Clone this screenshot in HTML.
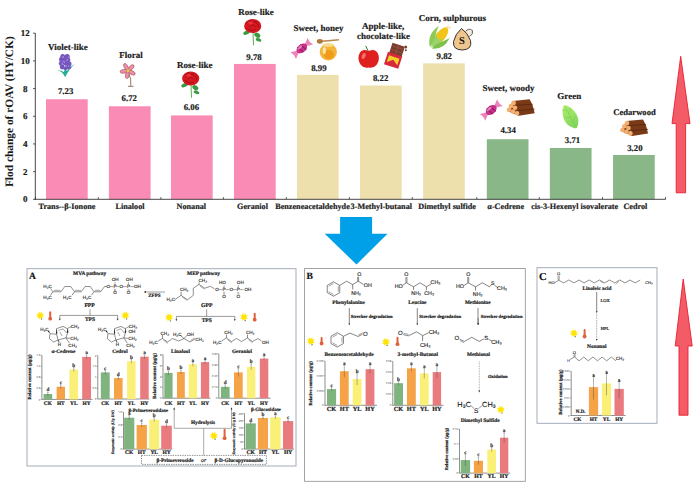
<!DOCTYPE html>
<html><head><meta charset="utf-8"><style>
html,body{margin:0;padding:0;background:#fff;}
svg{display:block;}
text{text-rendering:geometricPrecision;}
</style></head><body>
<svg width="700" height="488" viewBox="0 0 700 488">
<rect width="700" height="488" fill="#fff"/>
<rect x="46.00" y="99.22" width="41.70" height="100.08" fill="#FA8BB4" />
<text x="65.65" y="93.90" font-size="8.8" text-anchor="middle" font-weight="bold" font-family="'Liberation Serif', serif" fill="#1a1a1a" stroke="#1a1a1a" stroke-width="0.18" >7.23</text>
<text x="67.00" y="209.00" font-size="8.2" text-anchor="middle" font-weight="bold" font-family="'Liberation Serif', serif" fill="#1a1a1a" stroke="#1a1a1a" stroke-width="0.18" >Trans--β-Ionone</text>
<rect x="108.90" y="106.28" width="41.70" height="93.02" fill="#FA8BB4" />
<text x="129.25" y="100.70" font-size="8.8" text-anchor="middle" font-weight="bold" font-family="'Liberation Serif', serif" fill="#1a1a1a" stroke="#1a1a1a" stroke-width="0.18" >6.72</text>
<text x="130.00" y="209.00" font-size="8.2" text-anchor="middle" font-weight="bold" font-family="'Liberation Serif', serif" fill="#1a1a1a" stroke="#1a1a1a" stroke-width="0.18" >Linalool</text>
<rect x="171.00" y="115.42" width="41.70" height="83.88" fill="#FA8BB4" />
<text x="191.40" y="110.20" font-size="8.8" text-anchor="middle" font-weight="bold" font-family="'Liberation Serif', serif" fill="#1a1a1a" stroke="#1a1a1a" stroke-width="0.18" >6.06</text>
<text x="191.30" y="209.00" font-size="8.2" text-anchor="middle" font-weight="bold" font-family="'Liberation Serif', serif" fill="#1a1a1a" stroke="#1a1a1a" stroke-width="0.18" >Nonanal</text>
<rect x="234.00" y="63.93" width="41.70" height="135.37" fill="#FA8BB4" />
<text x="254.00" y="60.00" font-size="8.8" text-anchor="middle" font-weight="bold" font-family="'Liberation Serif', serif" fill="#1a1a1a" stroke="#1a1a1a" stroke-width="0.18" >9.78</text>
<text x="252.50" y="209.00" font-size="8.2" text-anchor="middle" font-weight="bold" font-family="'Liberation Serif', serif" fill="#1a1a1a" stroke="#1a1a1a" stroke-width="0.18" >Geraniol</text>
<rect x="296.95" y="74.86" width="41.70" height="124.44" fill="#EDE0AD" />
<text x="318.90" y="71.00" font-size="8.8" text-anchor="middle" font-weight="bold" font-family="'Liberation Serif', serif" fill="#1a1a1a" stroke="#1a1a1a" stroke-width="0.18" >8.99</text>
<text x="312.50" y="209.00" font-size="8.2" text-anchor="middle" font-weight="bold" font-family="'Liberation Serif', serif" fill="#1a1a1a" stroke="#1a1a1a" stroke-width="0.18" >Benzeneacetaldehyde</text>
<rect x="360.00" y="85.52" width="41.70" height="113.78" fill="#EDE0AD" />
<text x="380.60" y="80.80" font-size="8.8" text-anchor="middle" font-weight="bold" font-family="'Liberation Serif', serif" fill="#1a1a1a" stroke="#1a1a1a" stroke-width="0.18" >8.22</text>
<text x="381.30" y="209.00" font-size="8.2" text-anchor="middle" font-weight="bold" font-family="'Liberation Serif', serif" fill="#1a1a1a" stroke="#1a1a1a" stroke-width="0.18" >3-Methyl-butanal</text>
<rect x="423.10" y="63.37" width="41.70" height="135.93" fill="#EDE0AD" />
<text x="444.25" y="59.10" font-size="8.8" text-anchor="middle" font-weight="bold" font-family="'Liberation Serif', serif" fill="#1a1a1a" stroke="#1a1a1a" stroke-width="0.18" >9.82</text>
<text x="447.10" y="209.00" font-size="8.2" text-anchor="middle" font-weight="bold" font-family="'Liberation Serif', serif" fill="#1a1a1a" stroke="#1a1a1a" stroke-width="0.18" >Dimethyl sulfide</text>
<rect x="486.80" y="139.23" width="41.70" height="60.07" fill="#89B787" />
<text x="508.15" y="133.40" font-size="8.8" text-anchor="middle" font-weight="bold" font-family="'Liberation Serif', serif" fill="#1a1a1a" stroke="#1a1a1a" stroke-width="0.18" >4.34</text>
<text x="505.70" y="209.00" font-size="8.2" text-anchor="middle" font-weight="bold" font-family="'Liberation Serif', serif" fill="#1a1a1a" stroke="#1a1a1a" stroke-width="0.18" >α-Cedrene</text>
<rect x="549.85" y="147.95" width="41.70" height="51.35" fill="#89B787" />
<text x="572.50" y="142.90" font-size="8.8" text-anchor="middle" font-weight="bold" font-family="'Liberation Serif', serif" fill="#1a1a1a" stroke="#1a1a1a" stroke-width="0.18" >3.71</text>
<text x="574.70" y="209.00" font-size="8.2" text-anchor="middle" font-weight="bold" font-family="'Liberation Serif', serif" fill="#1a1a1a" stroke="#1a1a1a" stroke-width="0.18" >cis-3-Hexenyl isovalerate</text>
<rect x="613.05" y="155.01" width="41.70" height="44.29" fill="#89B787" />
<text x="634.85" y="150.60" font-size="8.8" text-anchor="middle" font-weight="bold" font-family="'Liberation Serif', serif" fill="#1a1a1a" stroke="#1a1a1a" stroke-width="0.18" >3.20</text>
<text x="635.40" y="209.00" font-size="8.2" text-anchor="middle" font-weight="bold" font-family="'Liberation Serif', serif" fill="#1a1a1a" stroke="#1a1a1a" stroke-width="0.18" >Cedrol</text>
<line x1="35.30" y1="33.20" x2="35.30" y2="199.70" stroke="#333" stroke-width="0.9" />
<line x1="34.90" y1="199.30" x2="665.70" y2="199.30" stroke="#333" stroke-width="0.9" />
<line x1="33.00" y1="199.30" x2="35.30" y2="199.30" stroke="#333" stroke-width="0.8" />
<text x="25.20" y="202.30" font-size="9.0" text-anchor="middle" font-weight="bold" font-family="'Liberation Serif', serif" fill="#1a1a1a" stroke="#1a1a1a" stroke-width="0.18" >0</text>
<line x1="33.00" y1="171.62" x2="35.30" y2="171.62" stroke="#333" stroke-width="0.8" />
<text x="25.20" y="174.62" font-size="9.0" text-anchor="middle" font-weight="bold" font-family="'Liberation Serif', serif" fill="#1a1a1a" stroke="#1a1a1a" stroke-width="0.18" >2</text>
<line x1="33.00" y1="143.93" x2="35.30" y2="143.93" stroke="#333" stroke-width="0.8" />
<text x="25.20" y="146.93" font-size="9.0" text-anchor="middle" font-weight="bold" font-family="'Liberation Serif', serif" fill="#1a1a1a" stroke="#1a1a1a" stroke-width="0.18" >4</text>
<line x1="33.00" y1="116.25" x2="35.30" y2="116.25" stroke="#333" stroke-width="0.8" />
<text x="25.20" y="119.25" font-size="9.0" text-anchor="middle" font-weight="bold" font-family="'Liberation Serif', serif" fill="#1a1a1a" stroke="#1a1a1a" stroke-width="0.18" >6</text>
<line x1="33.00" y1="88.57" x2="35.30" y2="88.57" stroke="#333" stroke-width="0.8" />
<text x="25.20" y="91.57" font-size="9.0" text-anchor="middle" font-weight="bold" font-family="'Liberation Serif', serif" fill="#1a1a1a" stroke="#1a1a1a" stroke-width="0.18" >8</text>
<line x1="33.00" y1="60.88" x2="35.30" y2="60.88" stroke="#333" stroke-width="0.8" />
<text x="25.20" y="63.88" font-size="9.0" text-anchor="middle" font-weight="bold" font-family="'Liberation Serif', serif" fill="#1a1a1a" stroke="#1a1a1a" stroke-width="0.18" >10</text>
<line x1="33.00" y1="33.20" x2="35.30" y2="33.20" stroke="#333" stroke-width="0.8" />
<text x="25.20" y="36.20" font-size="9.0" text-anchor="middle" font-weight="bold" font-family="'Liberation Serif', serif" fill="#1a1a1a" stroke="#1a1a1a" stroke-width="0.18" >12</text>
<line x1="35.40" y1="199.30" x2="35.40" y2="197.10" stroke="#333" stroke-width="0.8" />
<line x1="98.30" y1="199.30" x2="98.30" y2="197.10" stroke="#333" stroke-width="0.8" />
<line x1="160.90" y1="199.30" x2="160.90" y2="197.10" stroke="#333" stroke-width="0.8" />
<line x1="223.40" y1="199.30" x2="223.40" y2="197.10" stroke="#333" stroke-width="0.8" />
<line x1="286.30" y1="199.30" x2="286.30" y2="197.10" stroke="#333" stroke-width="0.8" />
<line x1="349.40" y1="199.30" x2="349.40" y2="197.10" stroke="#333" stroke-width="0.8" />
<line x1="412.30" y1="199.30" x2="412.30" y2="197.10" stroke="#333" stroke-width="0.8" />
<line x1="476.80" y1="199.30" x2="476.80" y2="197.10" stroke="#333" stroke-width="0.8" />
<line x1="539.30" y1="199.30" x2="539.30" y2="197.10" stroke="#333" stroke-width="0.8" />
<line x1="602.50" y1="199.30" x2="602.50" y2="197.10" stroke="#333" stroke-width="0.8" />
<line x1="665.50" y1="199.30" x2="665.50" y2="197.10" stroke="#333" stroke-width="0.8" />
<text transform="translate(12.8,111.7) rotate(-90)" font-size="11.4" text-anchor="middle" font-weight="bold" font-family="'Liberation Serif', serif" fill="#1a1a1a">Flod change of rOAV (HY/CK)</text>
<text x="67.85" y="49.80" font-size="9.0" text-anchor="middle" font-weight="bold" font-family="'Liberation Serif', serif" fill="#1a1a1a" stroke="#1a1a1a" stroke-width="0.18" >Violet-like</text>
<text x="130.90" y="58.10" font-size="9.0" text-anchor="middle" font-weight="bold" font-family="'Liberation Serif', serif" fill="#1a1a1a" stroke="#1a1a1a" stroke-width="0.18" >Floral</text>
<text x="194.75" y="68.10" font-size="9.0" text-anchor="middle" font-weight="bold" font-family="'Liberation Serif', serif" fill="#1a1a1a" stroke="#1a1a1a" stroke-width="0.18" >Rose-like</text>
<text x="256.00" y="14.80" font-size="9.0" text-anchor="middle" font-weight="bold" font-family="'Liberation Serif', serif" fill="#1a1a1a" stroke="#1a1a1a" stroke-width="0.18" >Rose-like</text>
<text x="318.40" y="31.00" font-size="9.0" text-anchor="middle" font-weight="bold" font-family="'Liberation Serif', serif" fill="#1a1a1a" stroke="#1a1a1a" stroke-width="0.18" >Sweet, honey</text>
<text x="383.25" y="28.60" font-size="9.0" text-anchor="middle" font-weight="bold" font-family="'Liberation Serif', serif" fill="#1a1a1a" stroke="#1a1a1a" stroke-width="0.18" >Apple-like,</text>
<text x="383.50" y="39.40" font-size="9.0" text-anchor="middle" font-weight="bold" font-family="'Liberation Serif', serif" fill="#1a1a1a" stroke="#1a1a1a" stroke-width="0.18" >chocolate-like</text>
<text x="452.40" y="20.60" font-size="9.0" text-anchor="middle" font-weight="bold" font-family="'Liberation Serif', serif" fill="#1a1a1a" stroke="#1a1a1a" stroke-width="0.18" >Corn, sulphurous</text>
<text x="508.50" y="91.00" font-size="9.0" text-anchor="middle" font-weight="bold" font-family="'Liberation Serif', serif" fill="#1a1a1a" stroke="#1a1a1a" stroke-width="0.18" >Sweet, woody</text>
<text x="569.25" y="99.10" font-size="9.0" text-anchor="middle" font-weight="bold" font-family="'Liberation Serif', serif" fill="#1a1a1a" stroke="#1a1a1a" stroke-width="0.18" >Green</text>
<text x="634.50" y="114.60" font-size="8.6" text-anchor="middle" font-weight="bold" font-family="'Liberation Serif', serif" fill="#1a1a1a" stroke="#1a1a1a" stroke-width="0.18" >Cedarwood</text>
<g transform="translate(65.2,62)">
<path d="M-8,8.3 Q-3,9 0,15.2 Q4,7 9.6,2.1 Q4,5 1.5,9 L0.5,6 L-1.5,10 Q-4,8 -8,8.3 Z" fill="#28AC96"/>
<circle cx="-2.5" cy="-5.5" r="2.4" fill="#7656BE"/>
<circle cx="2" cy="-5.5" r="2.6" fill="#7656BE"/>
<circle cx="-3.8" cy="-2.5" r="2.4" fill="#7656BE"/>
<circle cx="2.5" cy="-2" r="2.6" fill="#7656BE"/>
<circle cx="-0.5" cy="-3" r="2.4" fill="#7656BE"/>
<circle cx="-4" cy="1.5" r="2.4" fill="#7656BE"/>
<circle cx="4" cy="2" r="2.4" fill="#7656BE"/>
<circle cx="0" cy="1" r="2.4" fill="#7656BE"/>
<circle cx="-3" cy="5" r="2.4" fill="#7656BE"/>
<circle cx="2" cy="5" r="2.4" fill="#7656BE"/>
<circle cx="0" cy="6.5" r="1.8" fill="#7656BE"/>
<circle cx="4.5" cy="5.5" r="1.5" fill="#7656BE"/>
<circle cx="-2" cy="-5" r="0.8" fill="#B8A8E8"/>
<circle cx="2" cy="-2" r="0.8" fill="#B8A8E8"/>
<circle cx="-3" cy="2" r="0.8" fill="#B8A8E8"/>
<circle cx="1" cy="4" r="0.7" fill="#B8A8E8"/>
<circle cx="3" cy="-5" r="0.6" fill="#B8A8E8"/>
<circle cx="-1" cy="0" r="0.7" fill="#B8A8E8"/>
<circle cx="3.5" cy="4" r="0.6" fill="#B8A8E8"/>
</g>
<g transform="translate(128,70.7)">
<path d="M0.5,2 Q3.5,7 2.8,15.3 M0,15.6 L5.5,15.6" stroke="#8A6A50" stroke-width="0.9" fill="none"/>
<ellipse cx="0" cy="-4.4" rx="1.9" ry="3.6" fill="#F28BB0" stroke="#8E5A48" stroke-width="0.55" transform="rotate(45)"/>
<ellipse cx="0" cy="-4.4" rx="1.9" ry="3.6" fill="#F28BB0" stroke="#8E5A48" stroke-width="0.55" transform="rotate(117)"/>
<ellipse cx="0" cy="-4.4" rx="1.9" ry="3.6" fill="#F28BB0" stroke="#8E5A48" stroke-width="0.55" transform="rotate(189)"/>
<ellipse cx="0" cy="-4.4" rx="1.9" ry="3.6" fill="#F28BB0" stroke="#8E5A48" stroke-width="0.55" transform="rotate(261)"/>
<ellipse cx="0" cy="-4.4" rx="1.9" ry="3.6" fill="#F28BB0" stroke="#8E5A48" stroke-width="0.55" transform="rotate(333)"/>
<circle cx="0" cy="0" r="1.4" fill="#F0DA20"/>
</g>
<g transform="translate(190.7,78.5) scale(1.0)">
<path d="M0.3,5 L0.8,19.2" stroke="#5CB04C" stroke-width="1.0"/>
<ellipse cx="-6.2" cy="6.6" rx="3.4" ry="1.9" fill="#3A9A42" transform="rotate(-25 -6.2 6.6)"/>
<ellipse cx="4.6" cy="9.2" rx="3.2" ry="2.3" fill="#3A9A42" transform="rotate(35 4.6 9.2)"/>
<ellipse cx="5.8" cy="13.8" rx="3.0" ry="1.6" fill="#3A9A42" transform="rotate(20 5.8 13.8)"/>
<ellipse cx="0" cy="0" rx="8.6" ry="7.0" fill="#D41820"/>
<path d="M-5,-2 Q0,-7 5,-2 M-3,1 Q0,-3 3,1 M-6,2 Q-2,6 3,4 M2,-5 Q6,-3 6,2 M-6,-3 Q-4,-6 -1,-6" stroke="#9A0C14" stroke-width="0.7" fill="none"/>
<ellipse cx="-2" cy="-3" rx="2.5" ry="1.4" fill="#EC3038"/>
</g>
<g transform="translate(252.7,26.0) scale(1.0)">
<path d="M0.3,5 L0.8,19.2" stroke="#5CB04C" stroke-width="1.0"/>
<ellipse cx="-6.2" cy="6.6" rx="3.4" ry="1.9" fill="#3A9A42" transform="rotate(-25 -6.2 6.6)"/>
<ellipse cx="4.6" cy="9.2" rx="3.2" ry="2.3" fill="#3A9A42" transform="rotate(35 4.6 9.2)"/>
<ellipse cx="5.8" cy="13.8" rx="3.0" ry="1.6" fill="#3A9A42" transform="rotate(20 5.8 13.8)"/>
<ellipse cx="0" cy="0" rx="8.6" ry="7.0" fill="#D41820"/>
<path d="M-5,-2 Q0,-7 5,-2 M-3,1 Q0,-3 3,1 M-6,2 Q-2,6 3,4 M2,-5 Q6,-3 6,2 M-6,-3 Q-4,-6 -1,-6" stroke="#9A0C14" stroke-width="0.7" fill="none"/>
<ellipse cx="-2" cy="-3" rx="2.5" ry="1.4" fill="#EC3038"/>
</g>
<g transform="translate(301.8,48.4) rotate(-40) scale(0.86)">
<path d="M-13,-5 Q-11,0 -13,5 L-6,1.5 L-6,-1.5 Z" fill="#EC84BC"/>
<path d="M13,-5 Q11,0 13,5 L6,1.5 L6,-1.5 Z" fill="#EC84BC"/>
<ellipse cx="0" cy="0" rx="7" ry="4.8" fill="#C8308A"/>
<path d="M-3,-4.5 L-1.5,4.5 M1.5,-4.5 L3,4.5" stroke="#8E1A5E" stroke-width="1.2"/>
<ellipse cx="-1" cy="-2.3" rx="3.5" ry="1.2" fill="#F0A0D0" opacity="0.8"/>
</g>
<g transform="translate(328.3,51.5)">
<ellipse cx="0" cy="0.5" rx="8.6" ry="8.5" fill="#F3B43A"/>
<ellipse cx="0" cy="-6.5" rx="6" ry="1.8" fill="#F6DC90"/>
<ellipse cx="0.5" cy="3" rx="5" ry="4.5" fill="#F09A18"/>
<ellipse cx="-4" cy="-1" rx="1.6" ry="3.5" fill="#FBE7A8"/>
<path d="M-10,-10 Q0,-10.5 10.5,-11.8" stroke="#B8864A" stroke-width="1.6" fill="none"/>
<ellipse cx="-8.5" cy="-10.2" rx="3" ry="2.4" fill="#B07838"/>
</g>
<g transform="translate(368.7,58)">
<path d="M-0.5,-7 L-3,-12" stroke="#3A7A2A" stroke-width="1"/>
<path d="M0,-7 C-8,-11 -11,-3 -10,2 C-9,8 -4,10.5 0,9.5 C4,10.5 9,8 10,2 C11,-3 8,-11 0,-7 Z" fill="#E0201E"/>
<ellipse cx="-5" cy="-2" rx="1.8" ry="3.2" fill="#F57070" transform="rotate(20 -5 -2)"/>
</g>
<g transform="translate(394.5,56) rotate(18)">
<rect x="-6" y="-12" width="13" height="11" fill="#7A3E2E"/>
<path d="M-5,-9 L6,-9 M-5,-5 L6,-5 M0.5,-12 L0.5,-1" stroke="#A06050" stroke-width="0.5"/>
<rect x="-7.5" y="-2" width="15" height="13" fill="#D8283C"/>
<polygon points="-5.5,1 5.5,1 5.5,8 0,4 -5.5,8" fill="#F2D02A"/>
<circle cx="8" cy="-12" r="1.4" fill="#7A3E2E"/><circle cx="9" cy="-9" r="1" fill="#7A3E2E"/>
</g>
<g transform="translate(439.7,37.2) rotate(40) scale(1.15)">
<ellipse cx="0" cy="-1" rx="4.2" ry="9.5" fill="#F2C418"/>
<path d="M-1,12 Q-10,6 -7,-7 Q-4,2 -1,6 Z" fill="#8CCB58"/>
<path d="M1,12 Q10,6 7,-5 Q4,3 1,6 Z" fill="#7EC04A"/>
<path d="M0,12 Q-3,4 -4,-2 Q0,6 4,-2 Q3,4 0,12 Z" fill="#9AD468"/>
<path d="M0,-10 L-1,-13 M0,-10 L2,-13" stroke="#F0D890" stroke-width="0.8"/>
</g>
<g transform="translate(462.5,39.5)">
<path d="M3,-8 Q6,-12 10,-9 Q11,-5 7,-3" stroke="#444" stroke-width="0.8" fill="#F4EAD8"/>
<path d="M-1,-11 Q5,-7 8,1 Q10,10 0,10.5 Q-10,10.5 -9,2 Q-7,-6 -1,-11 Z" fill="#EEC58C" stroke="#333" stroke-width="1"/>
<text x="-0.5" y="4.5" font-size="10.5" text-anchor="middle" font-weight="bold" font-family="'Liberation Serif', serif" fill="#111">S</text>
</g>
<g transform="translate(491.2,110) rotate(-40) scale(0.88)">
<path d="M-13,-5 Q-11,0 -13,5 L-6,1.5 L-6,-1.5 Z" fill="#EC84BC"/>
<path d="M13,-5 Q11,0 13,5 L6,1.5 L6,-1.5 Z" fill="#EC84BC"/>
<ellipse cx="0" cy="0" rx="7" ry="4.8" fill="#C8308A"/>
<path d="M-3,-4.5 L-1.5,4.5 M1.5,-4.5 L3,4.5" stroke="#8E1A5E" stroke-width="1.2"/>
<ellipse cx="-1" cy="-2.3" rx="3.5" ry="1.2" fill="#F0A0D0" opacity="0.8"/>
</g>
<g transform="translate(521,107.5) scale(1.0)">
<polygon points="-13.7,3.4 -8,-6.6 8.6,-8.3 11.5,-2.8 13.7,5.7 -2.3,8.3" fill="#7A3A18"/>
<path d="M-5.5,-2.2 L11.5,-3.2 M-3,3 L13.7,1.6" stroke="#50220A" stroke-width="0.7"/>
<circle cx="-12" cy="2.3" r="2.3" fill="#F4B070"/>
<circle cx="-8" cy="4" r="2.3" fill="#F4B070"/>
<circle cx="-4" cy="5.7" r="2.3" fill="#F4B070"/>
<circle cx="-10" cy="-1.4" r="2.3" fill="#F4B070"/>
<circle cx="-6" cy="0.3" r="2.3" fill="#F4B070"/>
<circle cx="-7.4" cy="-4.6" r="2.3" fill="#F4B070"/>
</g>
<g transform="translate(570.2,116.6) rotate(-28)">
<defs><linearGradient id="lg" x1="0" y1="0" x2="0" y2="1"><stop offset="0" stop-color="#ACEE6C"/><stop offset="1" stop-color="#7ED45C"/></linearGradient></defs>
<path d="M0,-13.2 C7,-8 8.2,3 5,8 C3,11.5 1,13 0,13.2 C-1,13 -3,11.5 -5,8 C-8.2,3 -7,-8 0,-13.2 Z" fill="url(#lg)"/>
<path d="M0,-11 L0,11 M0,-4 L4.5,-7 M0,1 L-5,-2 M0,5 L5,2 M0,-7 L-4,-9.5" stroke="#6CC24A" stroke-width="0.5" fill="none" opacity="0.7"/>
</g>
<g transform="translate(634.4,127.7) scale(1.0)">
<polygon points="-13.7,3.4 -8,-6.6 8.6,-8.3 11.5,-2.8 13.7,5.7 -2.3,8.3" fill="#7A3A18"/>
<path d="M-5.5,-2.2 L11.5,-3.2 M-3,3 L13.7,1.6" stroke="#50220A" stroke-width="0.7"/>
<circle cx="-12" cy="2.3" r="2.3" fill="#F4B070"/>
<circle cx="-8" cy="4" r="2.3" fill="#F4B070"/>
<circle cx="-4" cy="5.7" r="2.3" fill="#F4B070"/>
<circle cx="-10" cy="-1.4" r="2.3" fill="#F4B070"/>
<circle cx="-6" cy="0.3" r="2.3" fill="#F4B070"/>
<circle cx="-7.4" cy="-4.6" r="2.3" fill="#F4B070"/>
</g>
<polygon points="340.10,216.90 372.10,216.90 372.10,233.70 387.50,233.70 356.50,264.50 324.70,233.70 340.10,233.70" fill="#00A0E9" stroke="none" stroke-width="0" />
<polygon points="680.70,56.30 690.00,123.60 685.60,123.60 685.60,192.80 676.20,192.80 676.20,123.60 672.00,123.60" fill="#F35C66" stroke="#E81E34" stroke-width="0.9" />
<polygon points="683.20,279.00 692.20,346.00 688.00,346.00 688.00,415.20 679.00,415.20 679.00,346.00 675.20,346.00" fill="#F35C66" stroke="#E81E34" stroke-width="0.9" />
<!--PANELS-->
<rect x="27" y="268.7" width="269" height="297" fill="none"/>
<rect x="27.00" y="268.70" width="269.00" height="197.30" fill="none" stroke="#9AA3B2" stroke-width="0.9"/>
<text x="32.40" y="278.80" font-size="9.6" text-anchor="middle" font-weight="bold" font-family="'Liberation Serif', serif" fill="#111" stroke="#111" stroke-width="0.18" >A</text>
<text x="89.60" y="275.40" font-size="5.4" text-anchor="middle" font-weight="bold" font-family="'Liberation Serif', serif" fill="#1a1a1a" stroke="#1a1a1a" stroke-width="0.2" >MVA pathway</text>
<text x="203.50" y="275.00" font-size="5.4" text-anchor="middle" font-weight="bold" font-family="'Liberation Serif', serif" fill="#1a1a1a" stroke="#1a1a1a" stroke-width="0.2" >MEP pathway</text>
<polyline points="52.75,291.75 61.00,291.75 64.75,286.50 70.75,286.50 74.50,291.75 81.25,291.75 85.00,286.50 90.25,286.50 94.00,291.75 100.75,291.75 104.50,286.50 106.80,286.50" stroke="#333" stroke-width="0.55" fill="none" />
<polyline points="50.50,288.30 52.75,291.75 50.50,295.30" stroke="#333" stroke-width="0.55" fill="none" />
<line x1="54.00" y1="290.30" x2="60.50" y2="290.30" stroke="#333" stroke-width="0.45" />
<line x1="75.00" y1="290.30" x2="81.00" y2="290.30" stroke="#333" stroke-width="0.45" />
<line x1="95.00" y1="290.30" x2="100.50" y2="290.30" stroke="#333" stroke-width="0.45" />
<line x1="74.50" y1="291.75" x2="72.00" y2="295.20" stroke="#333" stroke-width="0.55" />
<line x1="94.00" y1="291.75" x2="91.50" y2="295.20" stroke="#333" stroke-width="0.55" />
<text x="47.60" y="287.90" font-size="4.6" text-anchor="middle" font-weight="normal" font-family="'Liberation Sans', sans-serif" fill="#111" stroke="#111" stroke-width="0.1" >H₃C</text>
<text x="47.60" y="299.20" font-size="4.6" text-anchor="middle" font-weight="normal" font-family="'Liberation Sans', sans-serif" fill="#111" stroke="#111" stroke-width="0.1" >H₃C</text>
<text x="67.20" y="299.20" font-size="4.6" text-anchor="middle" font-weight="normal" font-family="'Liberation Sans', sans-serif" fill="#111" stroke="#111" stroke-width="0.1" >H₃C</text>
<text x="87.00" y="299.20" font-size="4.6" text-anchor="middle" font-weight="normal" font-family="'Liberation Sans', sans-serif" fill="#111" stroke="#111" stroke-width="0.1" >H₃C</text>
<text x="108.30" y="288.20" font-size="4.6" text-anchor="middle" font-weight="normal" font-family="'Liberation Sans', sans-serif" fill="#111" stroke="#111" stroke-width="0.1" >O</text>
<text x="115.00" y="288.20" font-size="4.6" text-anchor="middle" font-weight="normal" font-family="'Liberation Sans', sans-serif" fill="#111" stroke="#111" stroke-width="0.1" >P</text>
<text x="121.20" y="288.20" font-size="4.6" text-anchor="middle" font-weight="normal" font-family="'Liberation Sans', sans-serif" fill="#111" stroke="#111" stroke-width="0.1" >O</text>
<text x="128.50" y="288.20" font-size="4.6" text-anchor="middle" font-weight="normal" font-family="'Liberation Sans', sans-serif" fill="#111" stroke="#111" stroke-width="0.1" >P</text>
<text x="137.50" y="288.20" font-size="4.6" text-anchor="middle" font-weight="normal" font-family="'Liberation Sans', sans-serif" fill="#111" stroke="#111" stroke-width="0.1" >OH</text>
<line x1="110.00" y1="286.60" x2="113.30" y2="286.60" stroke="#333" stroke-width="0.45" />
<line x1="116.70" y1="286.60" x2="119.50" y2="286.60" stroke="#333" stroke-width="0.45" />
<line x1="123.00" y1="286.60" x2="126.80" y2="286.60" stroke="#333" stroke-width="0.45" />
<line x1="130.20" y1="286.60" x2="134.30" y2="286.60" stroke="#333" stroke-width="0.45" />
<text x="115.20" y="280.80" font-size="4.6" text-anchor="middle" font-weight="normal" font-family="'Liberation Sans', sans-serif" fill="#111" stroke="#111" stroke-width="0.1" >OH</text>
<text x="129.30" y="280.80" font-size="4.6" text-anchor="middle" font-weight="normal" font-family="'Liberation Sans', sans-serif" fill="#111" stroke="#111" stroke-width="0.1" >OH</text>
<text x="115.00" y="294.40" font-size="4.6" text-anchor="middle" font-weight="normal" font-family="'Liberation Sans', sans-serif" fill="#111" stroke="#111" stroke-width="0.1" >O</text>
<text x="128.50" y="294.40" font-size="4.6" text-anchor="middle" font-weight="normal" font-family="'Liberation Sans', sans-serif" fill="#111" stroke="#111" stroke-width="0.1" >O</text>
<line x1="114.50" y1="288.80" x2="114.50" y2="291.60" stroke="#444" stroke-width="0.35" />
<line x1="115.50" y1="288.80" x2="115.50" y2="291.60" stroke="#444" stroke-width="0.35" />
<line x1="115.00" y1="282.00" x2="115.00" y2="284.60" stroke="#444" stroke-width="0.4" />
<line x1="128.00" y1="288.80" x2="128.00" y2="291.60" stroke="#444" stroke-width="0.35" />
<line x1="129.00" y1="288.80" x2="129.00" y2="291.60" stroke="#444" stroke-width="0.35" />
<line x1="128.50" y1="282.00" x2="128.50" y2="284.60" stroke="#444" stroke-width="0.4" />
<text x="89.60" y="306.90" font-size="5.6" text-anchor="middle" font-weight="bold" font-family="'Liberation Serif', serif" fill="#1a1a1a" stroke="#1a1a1a" stroke-width="0.2" >FPP</text>
<line x1="145.50" y1="292.00" x2="165.00" y2="292.00" stroke="#888" stroke-width="0.8" />
<polygon points="143.60,292.00 146.00,290.90 146.00,293.10" fill="#222" stroke="none" stroke-width="0" />
<text x="154.40" y="296.60" font-size="5.0" text-anchor="middle" font-weight="bold" font-family="'Liberation Serif', serif" fill="#1a1a1a" stroke="#1a1a1a" stroke-width="0.2" >ZFPS</text>
<polyline points="174.60,299.80 181.10,295.30 187.50,299.80 193.30,295.30 193.30,288.20 199.00,284.40 204.80,288.20 210.60,286.30 214.50,288.90" stroke="#333" stroke-width="0.55" fill="none" />
<line x1="182.00" y1="296.80" x2="187.00" y2="300.30" stroke="#333" stroke-width="0.4" />
<line x1="200.00" y1="286.00" x2="204.50" y2="289.30" stroke="#333" stroke-width="0.4" />
<line x1="181.10" y1="295.30" x2="181.10" y2="291.60" stroke="#333" stroke-width="0.55" />
<line x1="199.00" y1="284.40" x2="199.00" y2="282.40" stroke="#333" stroke-width="0.55" />
<text x="170.80" y="301.00" font-size="4.6" text-anchor="middle" font-weight="normal" font-family="'Liberation Sans', sans-serif" fill="#111" stroke="#111" stroke-width="0.1" >H₃C</text>
<text x="184.20" y="291.20" font-size="4.6" text-anchor="middle" font-weight="normal" font-family="'Liberation Sans', sans-serif" fill="#111" stroke="#111" stroke-width="0.1" >CH₃</text>
<text x="202.80" y="282.20" font-size="4.6" text-anchor="middle" font-weight="normal" font-family="'Liberation Sans', sans-serif" fill="#111" stroke="#111" stroke-width="0.1" >CH₃</text>
<text x="217.10" y="291.20" font-size="4.6" text-anchor="middle" font-weight="normal" font-family="'Liberation Sans', sans-serif" fill="#111" stroke="#111" stroke-width="0.1" >O</text>
<text x="224.10" y="291.20" font-size="4.6" text-anchor="middle" font-weight="normal" font-family="'Liberation Sans', sans-serif" fill="#111" stroke="#111" stroke-width="0.1" >P</text>
<text x="231.20" y="291.20" font-size="4.6" text-anchor="middle" font-weight="normal" font-family="'Liberation Sans', sans-serif" fill="#111" stroke="#111" stroke-width="0.1" >O</text>
<text x="238.30" y="291.20" font-size="4.6" text-anchor="middle" font-weight="normal" font-family="'Liberation Sans', sans-serif" fill="#111" stroke="#111" stroke-width="0.1" >P</text>
<text x="248.00" y="291.20" font-size="4.6" text-anchor="middle" font-weight="normal" font-family="'Liberation Sans', sans-serif" fill="#111" stroke="#111" stroke-width="0.1" >OH</text>
<line x1="218.90" y1="289.60" x2="222.30" y2="289.60" stroke="#333" stroke-width="0.45" />
<line x1="225.90" y1="289.60" x2="229.40" y2="289.60" stroke="#333" stroke-width="0.45" />
<line x1="233.00" y1="289.60" x2="236.50" y2="289.60" stroke="#333" stroke-width="0.45" />
<line x1="240.10" y1="289.60" x2="243.50" y2="289.60" stroke="#333" stroke-width="0.45" />
<text x="222.50" y="284.00" font-size="4.6" text-anchor="middle" font-weight="normal" font-family="'Liberation Sans', sans-serif" fill="#111" stroke="#111" stroke-width="0.1" >HO</text>
<text x="240.30" y="284.00" font-size="4.6" text-anchor="middle" font-weight="normal" font-family="'Liberation Sans', sans-serif" fill="#111" stroke="#111" stroke-width="0.1" >OH</text>
<text x="224.10" y="297.60" font-size="4.6" text-anchor="middle" font-weight="normal" font-family="'Liberation Sans', sans-serif" fill="#111" stroke="#111" stroke-width="0.1" >O</text>
<text x="238.30" y="297.60" font-size="4.6" text-anchor="middle" font-weight="normal" font-family="'Liberation Sans', sans-serif" fill="#111" stroke="#111" stroke-width="0.1" >O</text>
<line x1="223.60" y1="291.80" x2="223.60" y2="294.60" stroke="#444" stroke-width="0.35" />
<line x1="224.60" y1="291.80" x2="224.60" y2="294.60" stroke="#444" stroke-width="0.35" />
<line x1="224.10" y1="285.00" x2="224.10" y2="287.60" stroke="#444" stroke-width="0.4" />
<line x1="237.80" y1="291.80" x2="237.80" y2="294.60" stroke="#444" stroke-width="0.35" />
<line x1="238.80" y1="291.80" x2="238.80" y2="294.60" stroke="#444" stroke-width="0.35" />
<line x1="238.30" y1="285.00" x2="238.30" y2="287.60" stroke="#444" stroke-width="0.4" />
<text x="206.70" y="306.90" font-size="5.8" text-anchor="middle" font-weight="bold" font-family="'Liberation Serif', serif" fill="#1a1a1a" stroke="#1a1a1a" stroke-width="0.2" >GPP</text>
<line x1="90.00" y1="309.30" x2="90.00" y2="315.40" stroke="#444" stroke-width="0.55" />
<line x1="59.80" y1="315.40" x2="117.60" y2="315.40" stroke="#444" stroke-width="0.55" />
<line x1="59.80" y1="315.40" x2="59.80" y2="319.00" stroke="#333" stroke-width="0.5" />
<polygon points="58.90,318.70 60.70,318.70 59.80,320.50" fill="#222" stroke="none" stroke-width="0" />
<line x1="117.60" y1="315.40" x2="117.60" y2="319.00" stroke="#333" stroke-width="0.5" />
<polygon points="116.70,318.70 118.50,318.70 117.60,320.50" fill="#222" stroke="none" stroke-width="0" />
<text x="90.00" y="321.40" font-size="5.5" text-anchor="middle" font-weight="bold" font-family="'Liberation Serif', serif" fill="#1a1a1a" stroke="#1a1a1a" stroke-width="0.2" >TPS</text>
<line x1="206.70" y1="309.30" x2="206.70" y2="316.40" stroke="#444" stroke-width="0.55" />
<line x1="176.40" y1="316.40" x2="234.80" y2="316.40" stroke="#444" stroke-width="0.55" />
<line x1="176.40" y1="316.40" x2="176.40" y2="319.50" stroke="#333" stroke-width="0.5" />
<polygon points="175.50,319.20 177.30,319.20 176.40,321.00" fill="#222" stroke="none" stroke-width="0" />
<line x1="234.80" y1="316.40" x2="234.80" y2="319.50" stroke="#333" stroke-width="0.5" />
<polygon points="233.90,319.20 235.70,319.20 234.80,321.00" fill="#222" stroke="none" stroke-width="0" />
<text x="206.70" y="322.10" font-size="5.5" text-anchor="middle" font-weight="bold" font-family="'Liberation Serif', serif" fill="#1a1a1a" stroke="#1a1a1a" stroke-width="0.2" >TPS</text>
<g transform="translate(40.3,315.5)">
<polygon points="-0.8,-2.3000000000000003 0.8,-2.3000000000000003 0,-4.5" fill="#FFE61A" transform="rotate(22)"/>
<polygon points="-0.8,-2.3000000000000003 0.8,-2.3000000000000003 0,-4.5" fill="#FFE61A" transform="rotate(67)"/>
<polygon points="-0.8,-2.3000000000000003 0.8,-2.3000000000000003 0,-4.5" fill="#FFE61A" transform="rotate(112)"/>
<polygon points="-0.8,-2.3000000000000003 0.8,-2.3000000000000003 0,-4.5" fill="#FFE61A" transform="rotate(157)"/>
<polygon points="-0.8,-2.3000000000000003 0.8,-2.3000000000000003 0,-4.5" fill="#FFE61A" transform="rotate(202)"/>
<polygon points="-0.8,-2.3000000000000003 0.8,-2.3000000000000003 0,-4.5" fill="#FFE61A" transform="rotate(247)"/>
<polygon points="-0.8,-2.3000000000000003 0.8,-2.3000000000000003 0,-4.5" fill="#FFE61A" transform="rotate(292)"/>
<polygon points="-0.8,-2.3000000000000003 0.8,-2.3000000000000003 0,-4.5" fill="#FFE61A" transform="rotate(337)"/>
<circle r="2.6" fill="#FFE40A"/>
<circle cx="1.2" cy="3.5" r="0.7" fill="#4A5A6A" opacity="0.8"/>
</g>
<line x1="50.2" y1="312.3" x2="50.2" y2="318.5" stroke="#E0603A" stroke-width="2.0" stroke-linecap="round"/>
<circle cx="50.2" cy="318.7" r="1.9" fill="#E0603A"/>
<text x="53.7" y="314.5" font-size="3.5" font-family="'Liberation Sans', sans-serif" fill="#F2D080">°</text>
<g transform="translate(125.4,315.4)">
<polygon points="-0.8,-2.3000000000000003 0.8,-2.3000000000000003 0,-4.5" fill="#FFE61A" transform="rotate(22)"/>
<polygon points="-0.8,-2.3000000000000003 0.8,-2.3000000000000003 0,-4.5" fill="#FFE61A" transform="rotate(67)"/>
<polygon points="-0.8,-2.3000000000000003 0.8,-2.3000000000000003 0,-4.5" fill="#FFE61A" transform="rotate(112)"/>
<polygon points="-0.8,-2.3000000000000003 0.8,-2.3000000000000003 0,-4.5" fill="#FFE61A" transform="rotate(157)"/>
<polygon points="-0.8,-2.3000000000000003 0.8,-2.3000000000000003 0,-4.5" fill="#FFE61A" transform="rotate(202)"/>
<polygon points="-0.8,-2.3000000000000003 0.8,-2.3000000000000003 0,-4.5" fill="#FFE61A" transform="rotate(247)"/>
<polygon points="-0.8,-2.3000000000000003 0.8,-2.3000000000000003 0,-4.5" fill="#FFE61A" transform="rotate(292)"/>
<polygon points="-0.8,-2.3000000000000003 0.8,-2.3000000000000003 0,-4.5" fill="#FFE61A" transform="rotate(337)"/>
<circle r="2.6" fill="#FFE40A"/>
<circle cx="1.2" cy="3.5" r="0.7" fill="#4A5A6A" opacity="0.8"/>
</g>
<g transform="translate(169.2,317.4)">
<polygon points="-0.8,-2.3000000000000003 0.8,-2.3000000000000003 0,-4.5" fill="#FFE61A" transform="rotate(22)"/>
<polygon points="-0.8,-2.3000000000000003 0.8,-2.3000000000000003 0,-4.5" fill="#FFE61A" transform="rotate(67)"/>
<polygon points="-0.8,-2.3000000000000003 0.8,-2.3000000000000003 0,-4.5" fill="#FFE61A" transform="rotate(112)"/>
<polygon points="-0.8,-2.3000000000000003 0.8,-2.3000000000000003 0,-4.5" fill="#FFE61A" transform="rotate(157)"/>
<polygon points="-0.8,-2.3000000000000003 0.8,-2.3000000000000003 0,-4.5" fill="#FFE61A" transform="rotate(202)"/>
<polygon points="-0.8,-2.3000000000000003 0.8,-2.3000000000000003 0,-4.5" fill="#FFE61A" transform="rotate(247)"/>
<polygon points="-0.8,-2.3000000000000003 0.8,-2.3000000000000003 0,-4.5" fill="#FFE61A" transform="rotate(292)"/>
<polygon points="-0.8,-2.3000000000000003 0.8,-2.3000000000000003 0,-4.5" fill="#FFE61A" transform="rotate(337)"/>
<circle r="2.6" fill="#FFE40A"/>
<circle cx="1.2" cy="3.5" r="0.7" fill="#4A5A6A" opacity="0.8"/>
</g>
<g transform="translate(244,317)">
<polygon points="-0.8,-2.3000000000000003 0.8,-2.3000000000000003 0,-4.5" fill="#FFE61A" transform="rotate(22)"/>
<polygon points="-0.8,-2.3000000000000003 0.8,-2.3000000000000003 0,-4.5" fill="#FFE61A" transform="rotate(67)"/>
<polygon points="-0.8,-2.3000000000000003 0.8,-2.3000000000000003 0,-4.5" fill="#FFE61A" transform="rotate(112)"/>
<polygon points="-0.8,-2.3000000000000003 0.8,-2.3000000000000003 0,-4.5" fill="#FFE61A" transform="rotate(157)"/>
<polygon points="-0.8,-2.3000000000000003 0.8,-2.3000000000000003 0,-4.5" fill="#FFE61A" transform="rotate(202)"/>
<polygon points="-0.8,-2.3000000000000003 0.8,-2.3000000000000003 0,-4.5" fill="#FFE61A" transform="rotate(247)"/>
<polygon points="-0.8,-2.3000000000000003 0.8,-2.3000000000000003 0,-4.5" fill="#FFE61A" transform="rotate(292)"/>
<polygon points="-0.8,-2.3000000000000003 0.8,-2.3000000000000003 0,-4.5" fill="#FFE61A" transform="rotate(337)"/>
<circle r="2.6" fill="#FFE40A"/>
<circle cx="1.2" cy="3.5" r="0.7" fill="#4A5A6A" opacity="0.8"/>
</g>
<line x1="254.7" y1="313.8" x2="254.7" y2="319.5" stroke="#E0603A" stroke-width="2.0" stroke-linecap="round"/>
<circle cx="254.7" cy="319.7" r="1.9" fill="#E0603A"/>
<text x="258.2" y="316" font-size="3.5" font-family="'Liberation Sans', sans-serif" fill="#F2D080">°</text>
<polyline points="50.00,333.60 56.60,334.30 58.00,340.00 53.70,342.10 49.40,338.60 50.00,333.60" stroke="#333" stroke-width="0.55" fill="none" />
<polyline points="56.60,334.30 56.60,328.60 63.00,326.40 67.30,328.60 68.00,331.40 65.90,337.90 58.00,340.00" stroke="#333" stroke-width="0.55" fill="none" />
<polyline points="58.50,330.50 63.00,328.80 66.50,333.00" stroke="#333" stroke-width="0.45" fill="none" />
<polyline points="60.00,332.00 62.00,336.00" stroke="#333" stroke-width="0.45" fill="none" />
<polygon points="50.00,333.60 47.60,331.20 49.00,330.60" fill="#222" stroke="none" stroke-width="0" />
<polygon points="56.60,328.60 56.00,333.50 57.40,333.50" fill="#222" stroke="none" stroke-width="0" />
<polygon points="67.30,328.60 66.80,333.00 68.30,332.60" fill="#222" stroke="none" stroke-width="0" />
<line x1="67.30" y1="328.60" x2="71.00" y2="326.60" stroke="#333" stroke-width="0.55" />
<line x1="65.90" y1="337.90" x2="70.00" y2="338.30" stroke="#333" stroke-width="0.55" />
<line x1="65.90" y1="337.90" x2="69.50" y2="343.20" stroke="#333" stroke-width="0.55" />
<line x1="58.00" y1="340.00" x2="59.20" y2="342.40" stroke="#333" stroke-width="0.9" />
<text x="44.40" y="331.40" font-size="4.6" text-anchor="middle" font-weight="normal" font-family="'Liberation Sans', sans-serif" fill="#111" stroke="#111" stroke-width="0.1" >H₃C</text>
<text x="75.00" y="328.00" font-size="4.6" text-anchor="middle" font-weight="normal" font-family="'Liberation Sans', sans-serif" fill="#111" stroke="#111" stroke-width="0.1" >CH₃</text>
<text x="74.50" y="340.00" font-size="4.6" text-anchor="middle" font-weight="normal" font-family="'Liberation Sans', sans-serif" fill="#111" stroke="#111" stroke-width="0.1" >CH₃</text>
<text x="72.60" y="347.00" font-size="4.6" text-anchor="middle" font-weight="normal" font-family="'Liberation Sans', sans-serif" fill="#111" stroke="#111" stroke-width="0.1" >CH₃</text>
<text x="59.40" y="346.00" font-size="4.6" text-anchor="middle" font-weight="normal" font-family="'Liberation Sans', sans-serif" fill="#111" stroke="#111" stroke-width="0.1" >H</text>
<polyline points="107.90,333.60 114.50,334.30 115.90,340.00 111.60,342.10 107.30,338.60 107.90,333.60" stroke="#333" stroke-width="0.55" fill="none" />
<polyline points="114.50,334.30 114.50,328.60 120.90,326.40 125.20,328.60 125.90,331.40 123.80,337.90 115.90,340.00" stroke="#333" stroke-width="0.55" fill="none" />
<polyline points="116.40,330.50 120.90,328.80 124.40,333.00" stroke="#333" stroke-width="0.45" fill="none" />
<polyline points="117.90,332.00 119.90,336.00" stroke="#333" stroke-width="0.45" fill="none" />
<polygon points="107.90,333.60 105.50,331.20 106.90,330.60" fill="#222" stroke="none" stroke-width="0" />
<polygon points="114.50,328.60 113.90,333.50 115.30,333.50" fill="#222" stroke="none" stroke-width="0" />
<polygon points="125.20,328.60 124.70,333.00 126.20,332.60" fill="#222" stroke="none" stroke-width="0" />
<line x1="125.20" y1="328.60" x2="128.90" y2="326.60" stroke="#333" stroke-width="0.55" />
<line x1="123.80" y1="337.90" x2="127.90" y2="338.30" stroke="#333" stroke-width="0.55" />
<line x1="123.80" y1="337.90" x2="127.40" y2="343.20" stroke="#333" stroke-width="0.55" />
<line x1="115.90" y1="340.00" x2="117.10" y2="342.40" stroke="#333" stroke-width="0.9" />
<text x="102.30" y="331.40" font-size="4.6" text-anchor="middle" font-weight="normal" font-family="'Liberation Sans', sans-serif" fill="#111" stroke="#111" stroke-width="0.1" >H₃C</text>
<text x="132.90" y="328.00" font-size="4.6" text-anchor="middle" font-weight="normal" font-family="'Liberation Sans', sans-serif" fill="#111" stroke="#111" stroke-width="0.1" >CH₃</text>
<text x="132.40" y="340.00" font-size="4.6" text-anchor="middle" font-weight="normal" font-family="'Liberation Sans', sans-serif" fill="#111" stroke="#111" stroke-width="0.1" >CH₃</text>
<text x="130.50" y="347.00" font-size="4.6" text-anchor="middle" font-weight="normal" font-family="'Liberation Sans', sans-serif" fill="#111" stroke="#111" stroke-width="0.1" >CH₃</text>
<text x="117.30" y="346.00" font-size="4.6" text-anchor="middle" font-weight="normal" font-family="'Liberation Sans', sans-serif" fill="#111" stroke="#111" stroke-width="0.1" >H</text>
<text x="132.00" y="333.20" font-size="4.6" text-anchor="middle" font-weight="normal" font-family="'Liberation Sans', sans-serif" fill="#111" stroke="#111" stroke-width="0.1" >OH</text>
<text x="63.40" y="352.80" font-size="5.3" text-anchor="middle" font-weight="bold" font-family="'Liberation Serif', serif" fill="#1a1a1a" stroke="#1a1a1a" stroke-width="0.2" >α-Cedrene</text>
<text x="119.90" y="353.00" font-size="5.3" text-anchor="middle" font-weight="bold" font-family="'Liberation Serif', serif" fill="#1a1a1a" stroke="#1a1a1a" stroke-width="0.2" >Cedrol</text>
<polyline points="158.00,341.00 162.50,338.50 167.50,342.00 172.50,338.50 178.50,341.00 184.00,338.50 190.00,342.00 195.00,339.00" stroke="#333" stroke-width="0.55" fill="none" />
<line x1="163.50" y1="340.40" x2="167.80" y2="343.30" stroke="#333" stroke-width="0.4" />
<line x1="190.50" y1="340.50" x2="194.80" y2="337.80" stroke="#333" stroke-width="0.4" />
<line x1="162.50" y1="338.50" x2="162.50" y2="335.00" stroke="#333" stroke-width="0.55" />
<line x1="184.00" y1="338.50" x2="180.00" y2="335.20" stroke="#333" stroke-width="0.55" />
<line x1="184.00" y1="338.50" x2="187.00" y2="335.20" stroke="#333" stroke-width="0.55" />
<text x="153.50" y="344.00" font-size="4.6" text-anchor="middle" font-weight="normal" font-family="'Liberation Sans', sans-serif" fill="#111" stroke="#111" stroke-width="0.1" >H₃C</text>
<text x="164.80" y="334.70" font-size="4.6" text-anchor="middle" font-weight="normal" font-family="'Liberation Sans', sans-serif" fill="#111" stroke="#111" stroke-width="0.1" >CH₃</text>
<text x="177.20" y="335.50" font-size="4.6" text-anchor="middle" font-weight="normal" font-family="'Liberation Sans', sans-serif" fill="#111" stroke="#111" stroke-width="0.1" >H₃C</text>
<text x="190.50" y="335.50" font-size="4.6" text-anchor="middle" font-weight="normal" font-family="'Liberation Sans', sans-serif" fill="#111" stroke="#111" stroke-width="0.1" >OH</text>
<text x="199.50" y="341.20" font-size="4.6" text-anchor="middle" font-weight="normal" font-family="'Liberation Sans', sans-serif" fill="#111" stroke="#111" stroke-width="0.1" >CH₂</text>
<text x="180.50" y="352.90" font-size="5.3" text-anchor="middle" font-weight="bold" font-family="'Liberation Serif', serif" fill="#1a1a1a" stroke="#1a1a1a" stroke-width="0.2" >Linalool</text>
<polyline points="221.50,341.00 226.50,338.00 231.50,341.50 236.50,338.50 241.50,341.50 247.50,338.00 252.50,341.50 258.00,338.50 261.50,341.00" stroke="#333" stroke-width="0.55" fill="none" />
<line x1="227.50" y1="339.80" x2="231.80" y2="342.80" stroke="#333" stroke-width="0.4" />
<line x1="248.50" y1="339.80" x2="252.80" y2="342.80" stroke="#333" stroke-width="0.4" />
<line x1="226.50" y1="338.00" x2="226.50" y2="334.50" stroke="#333" stroke-width="0.55" />
<line x1="247.50" y1="338.00" x2="247.50" y2="334.50" stroke="#333" stroke-width="0.55" />
<text x="217.20" y="343.50" font-size="4.6" text-anchor="middle" font-weight="normal" font-family="'Liberation Sans', sans-serif" fill="#111" stroke="#111" stroke-width="0.1" >H₃C</text>
<text x="228.50" y="334.20" font-size="4.6" text-anchor="middle" font-weight="normal" font-family="'Liberation Sans', sans-serif" fill="#111" stroke="#111" stroke-width="0.1" >CH₃</text>
<text x="250.20" y="334.20" font-size="4.6" text-anchor="middle" font-weight="normal" font-family="'Liberation Sans', sans-serif" fill="#111" stroke="#111" stroke-width="0.1" >CH₃</text>
<text x="265.50" y="343.50" font-size="4.6" text-anchor="middle" font-weight="normal" font-family="'Liberation Sans', sans-serif" fill="#111" stroke="#111" stroke-width="0.1" >OH</text>
<text x="242.00" y="353.00" font-size="5.3" text-anchor="middle" font-weight="bold" font-family="'Liberation Serif', serif" fill="#1a1a1a" stroke="#1a1a1a" stroke-width="0.2" >Geraniol</text>
<line x1="41.90" y1="355.20" x2="41.90" y2="399.40" stroke="#444" stroke-width="0.6" />
<line x1="41.90" y1="399.40" x2="92.50" y2="399.40" stroke="#444" stroke-width="0.6" />
<line x1="40.70" y1="399.40" x2="41.90" y2="399.40" stroke="#555" stroke-width="0.4" />
<text x="40.30" y="400.50" font-size="3.0" text-anchor="end" font-weight="normal" font-family="'Liberation Serif', serif" fill="#555" stroke="#555" stroke-width="0.05" >0</text>
<line x1="40.70" y1="388.35" x2="41.90" y2="388.35" stroke="#555" stroke-width="0.4" />
<text x="40.30" y="389.45" font-size="3.0" text-anchor="end" font-weight="normal" font-family="'Liberation Serif', serif" fill="#555" stroke="#555" stroke-width="0.05" >0.4</text>
<line x1="40.70" y1="377.30" x2="41.90" y2="377.30" stroke="#555" stroke-width="0.4" />
<text x="40.30" y="378.40" font-size="3.0" text-anchor="end" font-weight="normal" font-family="'Liberation Serif', serif" fill="#555" stroke="#555" stroke-width="0.05" >0.8</text>
<line x1="40.70" y1="366.25" x2="41.90" y2="366.25" stroke="#555" stroke-width="0.4" />
<text x="40.30" y="367.35" font-size="3.0" text-anchor="end" font-weight="normal" font-family="'Liberation Serif', serif" fill="#555" stroke="#555" stroke-width="0.05" >1.2</text>
<line x1="40.70" y1="355.20" x2="41.90" y2="355.20" stroke="#555" stroke-width="0.4" />
<text x="40.30" y="356.30" font-size="3.0" text-anchor="end" font-weight="normal" font-family="'Liberation Serif', serif" fill="#555" stroke="#555" stroke-width="0.05" >1.6</text>
<rect x="43.50" y="394.00" width="8.70" height="5.40" fill="#80B47E" />
<line x1="47.85" y1="392.00" x2="47.85" y2="396.00" stroke="#444" stroke-width="0.4" />
<line x1="47.05" y1="392.00" x2="48.65" y2="392.00" stroke="#444" stroke-width="0.4" />
<text x="47.85" y="391.40" font-size="5.2" text-anchor="middle" font-weight="bold" font-family="'Liberation Serif', serif" fill="#222" stroke="#222" stroke-width="0.12" >d</text>
<text x="47.85" y="405.20" font-size="5.4" text-anchor="middle" font-weight="bold" font-family="'Liberation Serif', serif" fill="#1a1a1a" stroke="#1a1a1a" stroke-width="0.2" >CK</text>
<rect x="56.60" y="386.70" width="8.40" height="12.70" fill="#F5A346" />
<line x1="60.80" y1="384.70" x2="60.80" y2="388.70" stroke="#444" stroke-width="0.4" />
<line x1="60.00" y1="384.70" x2="61.60" y2="384.70" stroke="#444" stroke-width="0.4" />
<text x="60.80" y="384.10" font-size="5.2" text-anchor="middle" font-weight="bold" font-family="'Liberation Serif', serif" fill="#222" stroke="#222" stroke-width="0.12" >c</text>
<text x="60.80" y="405.20" font-size="5.4" text-anchor="middle" font-weight="bold" font-family="'Liberation Serif', serif" fill="#1a1a1a" stroke="#1a1a1a" stroke-width="0.2" >HT</text>
<rect x="69.40" y="369.50" width="8.70" height="29.90" fill="#FAF078" />
<line x1="73.75" y1="367.50" x2="73.75" y2="371.50" stroke="#444" stroke-width="0.4" />
<line x1="72.95" y1="367.50" x2="74.55" y2="367.50" stroke="#444" stroke-width="0.4" />
<text x="73.75" y="366.90" font-size="5.2" text-anchor="middle" font-weight="bold" font-family="'Liberation Serif', serif" fill="#222" stroke="#222" stroke-width="0.12" >b</text>
<text x="73.75" y="405.20" font-size="5.4" text-anchor="middle" font-weight="bold" font-family="'Liberation Serif', serif" fill="#1a1a1a" stroke="#1a1a1a" stroke-width="0.2" >YL</text>
<rect x="82.20" y="356.90" width="8.80" height="42.50" fill="#E97B7E" />
<line x1="86.60" y1="354.90" x2="86.60" y2="358.90" stroke="#444" stroke-width="0.4" />
<line x1="85.80" y1="354.90" x2="87.40" y2="354.90" stroke="#444" stroke-width="0.4" />
<text x="86.60" y="354.30" font-size="5.2" text-anchor="middle" font-weight="bold" font-family="'Liberation Serif', serif" fill="#222" stroke="#222" stroke-width="0.12" >a</text>
<text x="86.60" y="405.20" font-size="5.4" text-anchor="middle" font-weight="bold" font-family="'Liberation Serif', serif" fill="#1a1a1a" stroke="#1a1a1a" stroke-width="0.2" >HY</text>
<text transform="translate(31.1,377.0) rotate(-90)" font-size="4.65" text-anchor="middle" font-weight="bold" font-family="'Liberation Serif', serif" fill="#222" stroke="#222" stroke-width="0.2">Relative content (μg/g)</text>
<line x1="97.80" y1="355.50" x2="97.80" y2="399.00" stroke="#444" stroke-width="0.6" />
<line x1="97.80" y1="399.00" x2="149.50" y2="399.00" stroke="#444" stroke-width="0.6" />
<line x1="96.60" y1="399.00" x2="97.80" y2="399.00" stroke="#555" stroke-width="0.4" />
<text x="96.20" y="400.10" font-size="3.0" text-anchor="end" font-weight="normal" font-family="'Liberation Serif', serif" fill="#555" stroke="#555" stroke-width="0.05" >0</text>
<line x1="96.60" y1="388.12" x2="97.80" y2="388.12" stroke="#555" stroke-width="0.4" />
<text x="96.20" y="389.23" font-size="3.0" text-anchor="end" font-weight="normal" font-family="'Liberation Serif', serif" fill="#555" stroke="#555" stroke-width="0.05" >0.5</text>
<line x1="96.60" y1="377.25" x2="97.80" y2="377.25" stroke="#555" stroke-width="0.4" />
<text x="96.20" y="378.35" font-size="3.0" text-anchor="end" font-weight="normal" font-family="'Liberation Serif', serif" fill="#555" stroke="#555" stroke-width="0.05" >1</text>
<line x1="96.60" y1="366.38" x2="97.80" y2="366.38" stroke="#555" stroke-width="0.4" />
<text x="96.20" y="367.48" font-size="3.0" text-anchor="end" font-weight="normal" font-family="'Liberation Serif', serif" fill="#555" stroke="#555" stroke-width="0.05" >1.5</text>
<line x1="96.60" y1="355.50" x2="97.80" y2="355.50" stroke="#555" stroke-width="0.4" />
<text x="96.20" y="356.60" font-size="3.0" text-anchor="end" font-weight="normal" font-family="'Liberation Serif', serif" fill="#555" stroke="#555" stroke-width="0.05" >2</text>
<rect x="100.80" y="372.40" width="8.90" height="26.60" fill="#80B47E" />
<line x1="105.25" y1="370.40" x2="105.25" y2="374.40" stroke="#444" stroke-width="0.4" />
<line x1="104.45" y1="370.40" x2="106.05" y2="370.40" stroke="#444" stroke-width="0.4" />
<text x="105.25" y="369.80" font-size="5.2" text-anchor="middle" font-weight="bold" font-family="'Liberation Serif', serif" fill="#222" stroke="#222" stroke-width="0.12" >c</text>
<text x="105.25" y="405.00" font-size="5.4" text-anchor="middle" font-weight="bold" font-family="'Liberation Serif', serif" fill="#1a1a1a" stroke="#1a1a1a" stroke-width="0.2" >CK</text>
<rect x="114.00" y="378.10" width="8.60" height="20.90" fill="#F5A346" />
<line x1="118.30" y1="376.10" x2="118.30" y2="380.10" stroke="#444" stroke-width="0.4" />
<line x1="117.50" y1="376.10" x2="119.10" y2="376.10" stroke="#444" stroke-width="0.4" />
<text x="118.30" y="375.50" font-size="5.2" text-anchor="middle" font-weight="bold" font-family="'Liberation Serif', serif" fill="#222" stroke="#222" stroke-width="0.12" >d</text>
<text x="118.30" y="405.00" font-size="5.4" text-anchor="middle" font-weight="bold" font-family="'Liberation Serif', serif" fill="#1a1a1a" stroke="#1a1a1a" stroke-width="0.2" >HT</text>
<rect x="127.10" y="361.20" width="8.50" height="37.80" fill="#FAF078" />
<line x1="131.35" y1="359.20" x2="131.35" y2="363.20" stroke="#444" stroke-width="0.4" />
<line x1="130.55" y1="359.20" x2="132.15" y2="359.20" stroke="#444" stroke-width="0.4" />
<text x="131.35" y="358.60" font-size="5.2" text-anchor="middle" font-weight="bold" font-family="'Liberation Serif', serif" fill="#222" stroke="#222" stroke-width="0.12" >b</text>
<text x="131.35" y="405.00" font-size="5.4" text-anchor="middle" font-weight="bold" font-family="'Liberation Serif', serif" fill="#1a1a1a" stroke="#1a1a1a" stroke-width="0.2" >YL</text>
<rect x="140.20" y="356.70" width="8.50" height="42.30" fill="#E97B7E" />
<line x1="144.45" y1="354.70" x2="144.45" y2="358.70" stroke="#444" stroke-width="0.4" />
<line x1="143.65" y1="354.70" x2="145.25" y2="354.70" stroke="#444" stroke-width="0.4" />
<text x="144.45" y="354.10" font-size="5.2" text-anchor="middle" font-weight="bold" font-family="'Liberation Serif', serif" fill="#222" stroke="#222" stroke-width="0.12" >a</text>
<text x="144.45" y="405.00" font-size="5.4" text-anchor="middle" font-weight="bold" font-family="'Liberation Serif', serif" fill="#1a1a1a" stroke="#1a1a1a" stroke-width="0.2" >HY</text>
<line x1="163.00" y1="354.60" x2="163.00" y2="398.20" stroke="#444" stroke-width="0.6" />
<line x1="163.00" y1="398.20" x2="210.50" y2="398.20" stroke="#444" stroke-width="0.6" />
<line x1="161.80" y1="398.20" x2="163.00" y2="398.20" stroke="#555" stroke-width="0.4" />
<text x="161.40" y="399.30" font-size="3.0" text-anchor="end" font-weight="normal" font-family="'Liberation Serif', serif" fill="#555" stroke="#555" stroke-width="0.05" >0</text>
<line x1="161.80" y1="387.30" x2="163.00" y2="387.30" stroke="#555" stroke-width="0.4" />
<text x="161.40" y="388.40" font-size="3.0" text-anchor="end" font-weight="normal" font-family="'Liberation Serif', serif" fill="#555" stroke="#555" stroke-width="0.05" >2</text>
<line x1="161.80" y1="376.40" x2="163.00" y2="376.40" stroke="#555" stroke-width="0.4" />
<text x="161.40" y="377.50" font-size="3.0" text-anchor="end" font-weight="normal" font-family="'Liberation Serif', serif" fill="#555" stroke="#555" stroke-width="0.05" >4</text>
<line x1="161.80" y1="365.50" x2="163.00" y2="365.50" stroke="#555" stroke-width="0.4" />
<text x="161.40" y="366.60" font-size="3.0" text-anchor="end" font-weight="normal" font-family="'Liberation Serif', serif" fill="#555" stroke="#555" stroke-width="0.05" >6</text>
<line x1="161.80" y1="354.60" x2="163.00" y2="354.60" stroke="#555" stroke-width="0.4" />
<text x="161.40" y="355.70" font-size="3.0" text-anchor="end" font-weight="normal" font-family="'Liberation Serif', serif" fill="#555" stroke="#555" stroke-width="0.05" >8</text>
<rect x="164.30" y="372.90" width="8.30" height="25.30" fill="#80B47E" />
<line x1="168.45" y1="370.90" x2="168.45" y2="374.90" stroke="#444" stroke-width="0.4" />
<line x1="167.65" y1="370.90" x2="169.25" y2="370.90" stroke="#444" stroke-width="0.4" />
<text x="168.45" y="370.30" font-size="5.2" text-anchor="middle" font-weight="bold" font-family="'Liberation Serif', serif" fill="#222" stroke="#222" stroke-width="0.12" >b</text>
<text x="168.45" y="404.60" font-size="5.4" text-anchor="middle" font-weight="bold" font-family="'Liberation Serif', serif" fill="#1a1a1a" stroke="#1a1a1a" stroke-width="0.2" >CK</text>
<rect x="177.00" y="372.00" width="7.80" height="26.20" fill="#F5A346" />
<line x1="180.90" y1="370.00" x2="180.90" y2="374.00" stroke="#444" stroke-width="0.4" />
<line x1="180.10" y1="370.00" x2="181.70" y2="370.00" stroke="#444" stroke-width="0.4" />
<text x="180.90" y="369.40" font-size="5.2" text-anchor="middle" font-weight="bold" font-family="'Liberation Serif', serif" fill="#222" stroke="#222" stroke-width="0.12" >b</text>
<text x="180.90" y="404.60" font-size="5.4" text-anchor="middle" font-weight="bold" font-family="'Liberation Serif', serif" fill="#1a1a1a" stroke="#1a1a1a" stroke-width="0.2" >HT</text>
<rect x="188.70" y="364.20" width="8.30" height="34.00" fill="#FAF078" />
<line x1="192.85" y1="362.20" x2="192.85" y2="366.20" stroke="#444" stroke-width="0.4" />
<line x1="192.05" y1="362.20" x2="193.65" y2="362.20" stroke="#444" stroke-width="0.4" />
<text x="192.85" y="361.60" font-size="5.2" text-anchor="middle" font-weight="bold" font-family="'Liberation Serif', serif" fill="#222" stroke="#222" stroke-width="0.12" >a</text>
<text x="192.85" y="404.60" font-size="5.4" text-anchor="middle" font-weight="bold" font-family="'Liberation Serif', serif" fill="#1a1a1a" stroke="#1a1a1a" stroke-width="0.2" >YL</text>
<rect x="200.90" y="362.10" width="8.30" height="36.10" fill="#E97B7E" />
<line x1="205.05" y1="360.10" x2="205.05" y2="364.10" stroke="#444" stroke-width="0.4" />
<line x1="204.25" y1="360.10" x2="205.85" y2="360.10" stroke="#444" stroke-width="0.4" />
<text x="205.05" y="359.50" font-size="5.2" text-anchor="middle" font-weight="bold" font-family="'Liberation Serif', serif" fill="#222" stroke="#222" stroke-width="0.12" >a</text>
<text x="205.05" y="404.60" font-size="5.4" text-anchor="middle" font-weight="bold" font-family="'Liberation Serif', serif" fill="#1a1a1a" stroke="#1a1a1a" stroke-width="0.2" >HY</text>
<text transform="translate(155.5,375.9) rotate(-90)" font-size="4.75" text-anchor="middle" font-weight="bold" font-family="'Liberation Serif', serif" fill="#222" stroke="#222" stroke-width="0.2">Relative content (μg/g)</text>
<line x1="218.80" y1="353.70" x2="218.80" y2="398.20" stroke="#444" stroke-width="0.6" />
<line x1="218.80" y1="398.20" x2="270.60" y2="398.20" stroke="#444" stroke-width="0.6" />
<line x1="217.60" y1="398.20" x2="218.80" y2="398.20" stroke="#555" stroke-width="0.4" />
<text x="217.20" y="399.30" font-size="3.0" text-anchor="end" font-weight="normal" font-family="'Liberation Serif', serif" fill="#555" stroke="#555" stroke-width="0.05" >0</text>
<line x1="217.60" y1="387.07" x2="218.80" y2="387.07" stroke="#555" stroke-width="0.4" />
<text x="217.20" y="388.18" font-size="3.0" text-anchor="end" font-weight="normal" font-family="'Liberation Serif', serif" fill="#555" stroke="#555" stroke-width="0.05" >0.15</text>
<line x1="217.60" y1="375.95" x2="218.80" y2="375.95" stroke="#555" stroke-width="0.4" />
<text x="217.20" y="377.05" font-size="3.0" text-anchor="end" font-weight="normal" font-family="'Liberation Serif', serif" fill="#555" stroke="#555" stroke-width="0.05" >0.30</text>
<line x1="217.60" y1="364.82" x2="218.80" y2="364.82" stroke="#555" stroke-width="0.4" />
<text x="217.20" y="365.93" font-size="3.0" text-anchor="end" font-weight="normal" font-family="'Liberation Serif', serif" fill="#555" stroke="#555" stroke-width="0.05" >0.45</text>
<line x1="217.60" y1="353.70" x2="218.80" y2="353.70" stroke="#555" stroke-width="0.4" />
<text x="217.20" y="354.80" font-size="3.0" text-anchor="end" font-weight="normal" font-family="'Liberation Serif', serif" fill="#555" stroke="#555" stroke-width="0.05" >0.60</text>
<rect x="220.90" y="386.80" width="8.70" height="11.40" fill="#80B47E" />
<line x1="225.25" y1="384.80" x2="225.25" y2="388.80" stroke="#444" stroke-width="0.4" />
<line x1="224.45" y1="384.80" x2="226.05" y2="384.80" stroke="#444" stroke-width="0.4" />
<text x="225.25" y="384.20" font-size="5.2" text-anchor="middle" font-weight="bold" font-family="'Liberation Serif', serif" fill="#222" stroke="#222" stroke-width="0.12" >d</text>
<text x="225.25" y="404.60" font-size="5.4" text-anchor="middle" font-weight="bold" font-family="'Liberation Serif', serif" fill="#1a1a1a" stroke="#1a1a1a" stroke-width="0.2" >CK</text>
<rect x="234.00" y="372.40" width="8.70" height="25.80" fill="#F5A346" />
<line x1="238.35" y1="368.40" x2="238.35" y2="376.40" stroke="#444" stroke-width="0.4" />
<line x1="237.55" y1="368.40" x2="239.15" y2="368.40" stroke="#444" stroke-width="0.4" />
<text x="238.35" y="367.80" font-size="5.2" text-anchor="middle" font-weight="bold" font-family="'Liberation Serif', serif" fill="#222" stroke="#222" stroke-width="0.12" >c</text>
<text x="238.35" y="404.60" font-size="5.4" text-anchor="middle" font-weight="bold" font-family="'Liberation Serif', serif" fill="#1a1a1a" stroke="#1a1a1a" stroke-width="0.2" >HT</text>
<rect x="247.00" y="366.80" width="8.40" height="31.40" fill="#FAF078" />
<line x1="251.20" y1="363.80" x2="251.20" y2="369.80" stroke="#444" stroke-width="0.4" />
<line x1="250.40" y1="363.80" x2="252.00" y2="363.80" stroke="#444" stroke-width="0.4" />
<text x="251.20" y="363.20" font-size="5.2" text-anchor="middle" font-weight="bold" font-family="'Liberation Serif', serif" fill="#222" stroke="#222" stroke-width="0.12" >b</text>
<text x="251.20" y="404.60" font-size="5.4" text-anchor="middle" font-weight="bold" font-family="'Liberation Serif', serif" fill="#1a1a1a" stroke="#1a1a1a" stroke-width="0.2" >YL</text>
<rect x="259.80" y="358.60" width="8.50" height="39.60" fill="#E97B7E" />
<line x1="264.05" y1="356.60" x2="264.05" y2="360.60" stroke="#444" stroke-width="0.4" />
<line x1="263.25" y1="356.60" x2="264.85" y2="356.60" stroke="#444" stroke-width="0.4" />
<text x="264.05" y="356.00" font-size="5.2" text-anchor="middle" font-weight="bold" font-family="'Liberation Serif', serif" fill="#222" stroke="#222" stroke-width="0.12" >a</text>
<text x="264.05" y="404.60" font-size="5.4" text-anchor="middle" font-weight="bold" font-family="'Liberation Serif', serif" fill="#1a1a1a" stroke="#1a1a1a" stroke-width="0.2" >HY</text>
<text x="148.20" y="411.60" font-size="5.0" text-anchor="middle" font-weight="bold" font-family="'Liberation Serif', serif" fill="#1a1a1a" stroke="#1a1a1a" stroke-width="0.2" >β-Primeverosidase</text>
<text x="265.90" y="410.80" font-size="5.0" text-anchor="middle" font-weight="bold" font-family="'Liberation Serif', serif" fill="#1a1a1a" stroke="#1a1a1a" stroke-width="0.2" >β-Glucosidase</text>
<line x1="123.50" y1="412.20" x2="123.50" y2="449.10" stroke="#444" stroke-width="0.6" />
<line x1="123.50" y1="449.10" x2="172.20" y2="449.10" stroke="#444" stroke-width="0.6" />
<line x1="122.30" y1="449.10" x2="123.50" y2="449.10" stroke="#555" stroke-width="0.4" />
<text x="121.90" y="450.20" font-size="3.0" text-anchor="end" font-weight="normal" font-family="'Liberation Serif', serif" fill="#555" stroke="#555" stroke-width="0.05" >0</text>
<line x1="122.30" y1="436.80" x2="123.50" y2="436.80" stroke="#555" stroke-width="0.4" />
<text x="121.90" y="437.90" font-size="3.0" text-anchor="end" font-weight="normal" font-family="'Liberation Serif', serif" fill="#555" stroke="#555" stroke-width="0.05" >0.5</text>
<line x1="122.30" y1="424.50" x2="123.50" y2="424.50" stroke="#555" stroke-width="0.4" />
<text x="121.90" y="425.60" font-size="3.0" text-anchor="end" font-weight="normal" font-family="'Liberation Serif', serif" fill="#555" stroke="#555" stroke-width="0.05" >0.8</text>
<line x1="122.30" y1="412.20" x2="123.50" y2="412.20" stroke="#555" stroke-width="0.4" />
<text x="121.90" y="413.30" font-size="3.0" text-anchor="end" font-weight="normal" font-family="'Liberation Serif', serif" fill="#555" stroke="#555" stroke-width="0.05" >1.0</text>
<rect x="124.10" y="417.70" width="10.20" height="31.40" fill="#80B47E" />
<line x1="129.20" y1="415.70" x2="129.20" y2="419.70" stroke="#444" stroke-width="0.4" />
<line x1="128.40" y1="415.70" x2="130.00" y2="415.70" stroke="#444" stroke-width="0.4" />
<text x="129.20" y="415.10" font-size="5.2" text-anchor="middle" font-weight="bold" font-family="'Liberation Serif', serif" fill="#222" stroke="#222" stroke-width="0.12" >a</text>
<text x="129.20" y="454.30" font-size="5.5" text-anchor="middle" font-weight="bold" font-family="'Liberation Serif', serif" fill="#1a1a1a" stroke="#1a1a1a" stroke-width="0.2" >CK</text>
<rect x="136.60" y="425.00" width="10.30" height="24.10" fill="#F5A346" />
<line x1="141.75" y1="423.00" x2="141.75" y2="427.00" stroke="#444" stroke-width="0.4" />
<line x1="140.95" y1="423.00" x2="142.55" y2="423.00" stroke="#444" stroke-width="0.4" />
<text x="141.75" y="422.40" font-size="5.2" text-anchor="middle" font-weight="bold" font-family="'Liberation Serif', serif" fill="#222" stroke="#222" stroke-width="0.12" >c</text>
<text x="141.75" y="454.30" font-size="5.5" text-anchor="middle" font-weight="bold" font-family="'Liberation Serif', serif" fill="#1a1a1a" stroke="#1a1a1a" stroke-width="0.2" >HT</text>
<rect x="149.20" y="419.60" width="10.00" height="29.50" fill="#FAF078" />
<line x1="154.20" y1="417.60" x2="154.20" y2="421.60" stroke="#444" stroke-width="0.4" />
<line x1="153.40" y1="417.60" x2="155.00" y2="417.60" stroke="#444" stroke-width="0.4" />
<text x="154.20" y="417.00" font-size="5.2" text-anchor="middle" font-weight="bold" font-family="'Liberation Serif', serif" fill="#222" stroke="#222" stroke-width="0.12" >b</text>
<text x="154.20" y="454.30" font-size="5.5" text-anchor="middle" font-weight="bold" font-family="'Liberation Serif', serif" fill="#1a1a1a" stroke="#1a1a1a" stroke-width="0.2" >YL</text>
<rect x="161.20" y="425.70" width="10.60" height="23.40" fill="#E97B7E" />
<line x1="166.50" y1="423.70" x2="166.50" y2="427.70" stroke="#444" stroke-width="0.4" />
<line x1="165.70" y1="423.70" x2="167.30" y2="423.70" stroke="#444" stroke-width="0.4" />
<text x="166.50" y="423.10" font-size="5.2" text-anchor="middle" font-weight="bold" font-family="'Liberation Serif', serif" fill="#222" stroke="#222" stroke-width="0.12" >d</text>
<text x="166.50" y="454.30" font-size="5.5" text-anchor="middle" font-weight="bold" font-family="'Liberation Serif', serif" fill="#1a1a1a" stroke="#1a1a1a" stroke-width="0.2" >HY</text>
<text transform="translate(113.9,432.2) rotate(-90)" font-size="3.75" text-anchor="middle" font-style="italic" font-weight="bold" font-family="'Liberation Serif', serif" fill="#222" stroke="#222" stroke-width="0.15">Enzymatic activity (U/g DW)</text>
<line x1="244.50" y1="413.40" x2="244.50" y2="449.10" stroke="#444" stroke-width="0.6" />
<line x1="244.50" y1="449.10" x2="294.00" y2="449.10" stroke="#444" stroke-width="0.6" />
<line x1="243.30" y1="449.10" x2="244.50" y2="449.10" stroke="#555" stroke-width="0.4" />
<text x="242.90" y="450.20" font-size="3.0" text-anchor="end" font-weight="normal" font-family="'Liberation Serif', serif" fill="#555" stroke="#555" stroke-width="0.05" >0</text>
<line x1="243.30" y1="441.96" x2="244.50" y2="441.96" stroke="#555" stroke-width="0.4" />
<text x="242.90" y="443.06" font-size="3.0" text-anchor="end" font-weight="normal" font-family="'Liberation Serif', serif" fill="#555" stroke="#555" stroke-width="0.05" >50</text>
<line x1="243.30" y1="434.82" x2="244.50" y2="434.82" stroke="#555" stroke-width="0.4" />
<text x="242.90" y="435.92" font-size="3.0" text-anchor="end" font-weight="normal" font-family="'Liberation Serif', serif" fill="#555" stroke="#555" stroke-width="0.05" >100</text>
<line x1="243.30" y1="427.68" x2="244.50" y2="427.68" stroke="#555" stroke-width="0.4" />
<text x="242.90" y="428.78" font-size="3.0" text-anchor="end" font-weight="normal" font-family="'Liberation Serif', serif" fill="#555" stroke="#555" stroke-width="0.05" >150</text>
<line x1="243.30" y1="420.54" x2="244.50" y2="420.54" stroke="#555" stroke-width="0.4" />
<text x="242.90" y="421.64" font-size="3.0" text-anchor="end" font-weight="normal" font-family="'Liberation Serif', serif" fill="#555" stroke="#555" stroke-width="0.05" >200</text>
<line x1="243.30" y1="413.40" x2="244.50" y2="413.40" stroke="#555" stroke-width="0.4" />
<text x="242.90" y="414.50" font-size="3.0" text-anchor="end" font-weight="normal" font-family="'Liberation Serif', serif" fill="#555" stroke="#555" stroke-width="0.05" >250</text>
<rect x="245.60" y="423.40" width="10.20" height="25.70" fill="#80B47E" />
<line x1="250.70" y1="422.20" x2="250.70" y2="424.60" stroke="#444" stroke-width="0.4" />
<line x1="249.90" y1="422.20" x2="251.50" y2="422.20" stroke="#444" stroke-width="0.4" />
<text x="250.70" y="421.60" font-size="5.2" text-anchor="middle" font-weight="bold" font-family="'Liberation Serif', serif" fill="#222" stroke="#222" stroke-width="0.12" >d</text>
<text x="250.70" y="454.30" font-size="5.6" text-anchor="middle" font-weight="bold" font-family="'Liberation Serif', serif" fill="#1a1a1a" stroke="#1a1a1a" stroke-width="0.2" >CK</text>
<rect x="257.90" y="418.00" width="10.10" height="31.10" fill="#F5A346" />
<line x1="262.95" y1="416.80" x2="262.95" y2="419.20" stroke="#444" stroke-width="0.4" />
<line x1="262.15" y1="416.80" x2="263.75" y2="416.80" stroke="#444" stroke-width="0.4" />
<text x="262.95" y="416.20" font-size="5.2" text-anchor="middle" font-weight="bold" font-family="'Liberation Serif', serif" fill="#222" stroke="#222" stroke-width="0.12" >b</text>
<text x="262.95" y="454.30" font-size="5.6" text-anchor="middle" font-weight="bold" font-family="'Liberation Serif', serif" fill="#1a1a1a" stroke="#1a1a1a" stroke-width="0.2" >HT</text>
<rect x="270.20" y="417.30" width="10.40" height="31.80" fill="#FAF078" />
<line x1="275.40" y1="415.80" x2="275.40" y2="418.80" stroke="#444" stroke-width="0.4" />
<line x1="274.60" y1="415.80" x2="276.20" y2="415.80" stroke="#444" stroke-width="0.4" />
<text x="275.40" y="415.20" font-size="5.2" text-anchor="middle" font-weight="bold" font-family="'Liberation Serif', serif" fill="#222" stroke="#222" stroke-width="0.12" >a</text>
<text x="275.40" y="454.30" font-size="5.6" text-anchor="middle" font-weight="bold" font-family="'Liberation Serif', serif" fill="#1a1a1a" stroke="#1a1a1a" stroke-width="0.2" >YL</text>
<rect x="283.00" y="421.10" width="10.20" height="28.00" fill="#E97B7E" />
<line x1="288.10" y1="419.90" x2="288.10" y2="422.30" stroke="#444" stroke-width="0.4" />
<line x1="287.30" y1="419.90" x2="288.90" y2="419.90" stroke="#444" stroke-width="0.4" />
<text x="288.10" y="419.30" font-size="5.2" text-anchor="middle" font-weight="bold" font-family="'Liberation Serif', serif" fill="#222" stroke="#222" stroke-width="0.12" >c</text>
<text x="288.10" y="454.30" font-size="5.6" text-anchor="middle" font-weight="bold" font-family="'Liberation Serif', serif" fill="#1a1a1a" stroke="#1a1a1a" stroke-width="0.2" >HY</text>
<text transform="translate(235.4,433.4) rotate(-90)" font-size="3.6" text-anchor="middle" font-style="italic" font-weight="bold" font-family="'Liberation Serif', serif" fill="#222" stroke="#222" stroke-width="0.15">Enzymatic activity (U/g DW)</text>
<polyline points="174.20,409.00 174.20,428.30 231.50,428.30 231.50,409.00" stroke="#555" stroke-width="0.5" fill="none" />
<polygon points="173.30,409.50 175.10,409.50 174.20,407.20" fill="#222" stroke="none" stroke-width="0" />
<polygon points="230.60,409.50 232.40,409.50 231.50,407.20" fill="#222" stroke="none" stroke-width="0" />
<line x1="203.70" y1="428.30" x2="203.70" y2="455.50" stroke="#555" stroke-width="0.5" />
<text x="203.00" y="424.00" font-size="5.2" text-anchor="middle" font-weight="bold" font-family="'Liberation Serif', serif" fill="#1a1a1a" stroke="#1a1a1a" stroke-width="0.2" >Hydrolysis</text>
<g transform="translate(213.8,435.7)">
<polygon points="-0.8,-2.3000000000000003 0.8,-2.3000000000000003 0,-4.5" fill="#FFE61A" transform="rotate(22)"/>
<polygon points="-0.8,-2.3000000000000003 0.8,-2.3000000000000003 0,-4.5" fill="#FFE61A" transform="rotate(67)"/>
<polygon points="-0.8,-2.3000000000000003 0.8,-2.3000000000000003 0,-4.5" fill="#FFE61A" transform="rotate(112)"/>
<polygon points="-0.8,-2.3000000000000003 0.8,-2.3000000000000003 0,-4.5" fill="#FFE61A" transform="rotate(157)"/>
<polygon points="-0.8,-2.3000000000000003 0.8,-2.3000000000000003 0,-4.5" fill="#FFE61A" transform="rotate(202)"/>
<polygon points="-0.8,-2.3000000000000003 0.8,-2.3000000000000003 0,-4.5" fill="#FFE61A" transform="rotate(247)"/>
<polygon points="-0.8,-2.3000000000000003 0.8,-2.3000000000000003 0,-4.5" fill="#FFE61A" transform="rotate(292)"/>
<polygon points="-0.8,-2.3000000000000003 0.8,-2.3000000000000003 0,-4.5" fill="#FFE61A" transform="rotate(337)"/>
<circle r="2.6" fill="#FFE40A"/>
<circle cx="1.2" cy="3.5" r="0.7" fill="#4A5A6A" opacity="0.8"/>
</g>
<line x1="224.6" y1="429.8" x2="224.6" y2="438" stroke="#E0603A" stroke-width="2.0" stroke-linecap="round"/>
<circle cx="224.6" cy="438.2" r="1.9" fill="#E0603A"/>
<text x="228.1" y="432" font-size="3.5" font-family="'Liberation Sans', sans-serif" fill="#F2D080">°</text>
<rect x="141.50" y="455.40" width="124.90" height="9.00" fill="none" stroke="#444" stroke-width="0.6" stroke-dasharray="1.4,1"/>
<text x="175.00" y="461.60" font-size="5.3" text-anchor="middle" font-weight="bold" font-family="'Liberation Serif', serif" fill="#1a1a1a" stroke="#1a1a1a" stroke-width="0.2" >β-Primeveroside</text>
<text x="203.60" y="461.60" font-size="5.6" text-anchor="middle" font-weight="normal" font-family="'Liberation Serif', serif" fill="#1a1a1a" stroke="#1a1a1a" stroke-width="0.2" font-style="italic">or</text>
<text x="238.80" y="461.60" font-size="5.3" text-anchor="middle" font-weight="bold" font-family="'Liberation Serif', serif" fill="#1a1a1a" stroke="#1a1a1a" stroke-width="0.2" >β-D-Glucopyranoside</text>
<rect x="304.60" y="268.60" width="220.70" height="212.70" fill="none" stroke="#8C8C8C" stroke-width="0.8"/>
<text x="309.60" y="278.60" font-size="9.6" text-anchor="middle" font-weight="bold" font-family="'Liberation Serif', serif" fill="#111" stroke="#111" stroke-width="0.18" >B</text>
<polyline points="339.74,292.60 333.50,296.20 327.26,292.60 327.26,285.40 333.50,281.80 339.74,285.40 339.74,292.60" stroke="#333" stroke-width="0.6" fill="none" />
<polyline points="328.74,286.25 333.50,283.50" stroke="#333" stroke-width="0.45" fill="none" />
<polyline points="333.50,294.50 328.74,291.75" stroke="#333" stroke-width="0.45" fill="none" />
<polyline points="338.26,286.25 338.26,291.75" stroke="#333" stroke-width="0.45" fill="none" />
<polyline points="339.70,285.40 346.60,281.20 352.70,284.60 358.10,281.20 363.50,284.40" stroke="#333" stroke-width="0.6" fill="none" />
<line x1="358.60" y1="281.20" x2="358.60" y2="276.80" stroke="#333" stroke-width="0.6" />
<line x1="357.50" y1="281.20" x2="357.50" y2="276.80" stroke="#333" stroke-width="0.45" />
<line x1="352.70" y1="284.60" x2="352.70" y2="289.50" stroke="#333" stroke-width="0.6" />
<text x="359.20" y="276.00" font-size="5.3" text-anchor="middle" font-weight="normal" font-family="'Liberation Sans', sans-serif" fill="#111" stroke="#111" stroke-width="0.1" >O</text>
<text x="367.80" y="287.20" font-size="5.3" text-anchor="middle" font-weight="normal" font-family="'Liberation Sans', sans-serif" fill="#111" stroke="#111" stroke-width="0.1" >OH</text>
<text x="356.00" y="294.80" font-size="5.3" text-anchor="middle" font-weight="normal" font-family="'Liberation Sans', sans-serif" fill="#111" stroke="#111" stroke-width="0.1" >NH₂</text>
<text x="348.60" y="304.40" font-size="5.36" text-anchor="middle" font-weight="bold" font-family="'Liberation Serif', serif" fill="#1a1a1a" stroke="#1a1a1a" stroke-width="0.2" >Phenylalanine</text>
<polyline points="402.50,285.40 406.40,282.80 413.60,286.80 420.00,282.80 426.40,286.80 431.00,284.00" stroke="#333" stroke-width="0.6" fill="none" />
<line x1="406.90" y1="282.80" x2="406.90" y2="277.00" stroke="#333" stroke-width="0.6" />
<line x1="405.80" y1="282.80" x2="405.80" y2="277.00" stroke="#333" stroke-width="0.45" />
<line x1="413.60" y1="286.80" x2="413.60" y2="290.20" stroke="#333" stroke-width="0.6" />
<line x1="426.40" y1="286.80" x2="426.40" y2="290.20" stroke="#333" stroke-width="0.6" />
<text x="398.70" y="287.80" font-size="5.3" text-anchor="middle" font-weight="normal" font-family="'Liberation Sans', sans-serif" fill="#111" stroke="#111" stroke-width="0.1" >HO</text>
<text x="406.40" y="276.20" font-size="5.3" text-anchor="middle" font-weight="normal" font-family="'Liberation Sans', sans-serif" fill="#111" stroke="#111" stroke-width="0.1" >O</text>
<text x="435.50" y="284.20" font-size="5.3" text-anchor="middle" font-weight="normal" font-family="'Liberation Sans', sans-serif" fill="#111" stroke="#111" stroke-width="0.1" >CH₃</text>
<text x="429.20" y="294.80" font-size="5.3" text-anchor="middle" font-weight="normal" font-family="'Liberation Sans', sans-serif" fill="#111" stroke="#111" stroke-width="0.1" >CH₃</text>
<text x="416.20" y="294.80" font-size="5.3" text-anchor="middle" font-weight="normal" font-family="'Liberation Sans', sans-serif" fill="#111" stroke="#111" stroke-width="0.1" >NH₂</text>
<text x="417.40" y="304.40" font-size="5.4" text-anchor="middle" font-weight="bold" font-family="'Liberation Serif', serif" fill="#1a1a1a" stroke="#1a1a1a" stroke-width="0.2" >Leucine</text>
<polyline points="463.80,285.60 468.20,282.80 475.50,286.80 482.40,282.80 489.50,286.80 491.30,284.80" stroke="#333" stroke-width="0.6" fill="none" />
<line x1="468.70" y1="282.80" x2="468.70" y2="277.00" stroke="#333" stroke-width="0.6" />
<line x1="467.60" y1="282.80" x2="467.60" y2="277.00" stroke="#333" stroke-width="0.45" />
<line x1="475.50" y1="286.80" x2="475.50" y2="290.50" stroke="#333" stroke-width="0.6" />
<line x1="494.50" y1="285.30" x2="498.00" y2="287.80" stroke="#333" stroke-width="0.6" />
<text x="460.00" y="287.80" font-size="5.3" text-anchor="middle" font-weight="normal" font-family="'Liberation Sans', sans-serif" fill="#111" stroke="#111" stroke-width="0.1" >HO</text>
<text x="468.20" y="276.20" font-size="5.3" text-anchor="middle" font-weight="normal" font-family="'Liberation Sans', sans-serif" fill="#111" stroke="#111" stroke-width="0.1" >O</text>
<text x="492.80" y="285.40" font-size="5.3" text-anchor="middle" font-weight="normal" font-family="'Liberation Sans', sans-serif" fill="#111" stroke="#111" stroke-width="0.1" >S</text>
<text x="502.00" y="290.20" font-size="5.3" text-anchor="middle" font-weight="normal" font-family="'Liberation Sans', sans-serif" fill="#111" stroke="#111" stroke-width="0.1" >CH₃</text>
<text x="477.70" y="295.80" font-size="5.3" text-anchor="middle" font-weight="normal" font-family="'Liberation Sans', sans-serif" fill="#111" stroke="#111" stroke-width="0.1" >NH₂</text>
<text x="477.70" y="304.40" font-size="5.24" text-anchor="middle" font-weight="bold" font-family="'Liberation Serif', serif" fill="#1a1a1a" stroke="#1a1a1a" stroke-width="0.2" >Methionine</text>
<line x1="349.30" y1="308.00" x2="349.30" y2="323.80" stroke="#333" stroke-width="0.6" />
<polygon points="348.40,323.50 350.20,323.50 349.30,325.30" fill="#222" stroke="none" stroke-width="0" />
<text x="371.65" y="317.90" font-size="4.63" text-anchor="middle" font-weight="bold" font-family="'Liberation Serif', serif" fill="#1a1a1a" stroke="#1a1a1a" stroke-width="0.2" >Strecker degradation</text>
<line x1="417.30" y1="308.00" x2="417.30" y2="323.80" stroke="#333" stroke-width="0.6" />
<polygon points="416.40,323.50 418.20,323.50 417.30,325.30" fill="#222" stroke="none" stroke-width="0" />
<text x="440.20" y="317.90" font-size="4.63" text-anchor="middle" font-weight="bold" font-family="'Liberation Serif', serif" fill="#1a1a1a" stroke="#1a1a1a" stroke-width="0.2" >Strecker degradation</text>
<line x1="478.00" y1="308.00" x2="478.00" y2="323.80" stroke="#333" stroke-width="0.6" />
<polygon points="477.10,323.50 478.90,323.50 478.00,325.30" fill="#222" stroke="none" stroke-width="0" />
<text x="501.55" y="317.90" font-size="4.63" text-anchor="middle" font-weight="bold" font-family="'Liberation Serif', serif" fill="#1a1a1a" stroke="#1a1a1a" stroke-width="0.2" >Strecker degradation</text>
<g transform="translate(310.8,341.2)">
<polygon points="-0.8,-2.3000000000000003 0.8,-2.3000000000000003 0,-4.5" fill="#FFE61A" transform="rotate(22)"/>
<polygon points="-0.8,-2.3000000000000003 0.8,-2.3000000000000003 0,-4.5" fill="#FFE61A" transform="rotate(67)"/>
<polygon points="-0.8,-2.3000000000000003 0.8,-2.3000000000000003 0,-4.5" fill="#FFE61A" transform="rotate(112)"/>
<polygon points="-0.8,-2.3000000000000003 0.8,-2.3000000000000003 0,-4.5" fill="#FFE61A" transform="rotate(157)"/>
<polygon points="-0.8,-2.3000000000000003 0.8,-2.3000000000000003 0,-4.5" fill="#FFE61A" transform="rotate(202)"/>
<polygon points="-0.8,-2.3000000000000003 0.8,-2.3000000000000003 0,-4.5" fill="#FFE61A" transform="rotate(247)"/>
<polygon points="-0.8,-2.3000000000000003 0.8,-2.3000000000000003 0,-4.5" fill="#FFE61A" transform="rotate(292)"/>
<polygon points="-0.8,-2.3000000000000003 0.8,-2.3000000000000003 0,-4.5" fill="#FFE61A" transform="rotate(337)"/>
<circle r="2.6" fill="#FFE40A"/>
<circle cx="1.2" cy="3.5" r="0.7" fill="#4A5A6A" opacity="0.8"/>
</g>
<line x1="321.6" y1="338.0" x2="321.6" y2="343.3" stroke="#E0603A" stroke-width="2.0" stroke-linecap="round"/>
<circle cx="321.6" cy="343.5" r="1.9" fill="#E0603A"/>
<text x="325.1" y="340.2" font-size="3.5" font-family="'Liberation Sans', sans-serif" fill="#F2D080">°</text>
<polyline points="343.44,343.50 337.20,347.10 330.96,343.50 330.96,336.30 337.20,332.70 343.44,336.30 343.44,343.50" stroke="#333" stroke-width="0.6" fill="none" />
<polyline points="332.44,337.15 337.20,334.40" stroke="#333" stroke-width="0.45" fill="none" />
<polyline points="337.20,345.40 332.44,342.65" stroke="#333" stroke-width="0.45" fill="none" />
<polyline points="341.96,337.15 341.96,342.65" stroke="#333" stroke-width="0.45" fill="none" />
<polyline points="343.40,336.30 350.00,333.10 358.10,336.50 362.50,334.20" stroke="#333" stroke-width="0.6" fill="none" />
<line x1="358.40" y1="335.00" x2="362.60" y2="332.80" stroke="#333" stroke-width="0.45" />
<text x="365.30" y="335.60" font-size="6.0" text-anchor="middle" font-weight="normal" font-family="'Liberation Sans', sans-serif" fill="#111" stroke="#111" stroke-width="0.1" >O</text>
<text x="349.00" y="356.10" font-size="5.42" text-anchor="middle" font-weight="bold" font-family="'Liberation Serif', serif" fill="#1a1a1a" stroke="#1a1a1a" stroke-width="0.2" >Benzeneacetaldehyde</text>
<g transform="translate(385.9,341.9)">
<polygon points="-0.8,-2.3000000000000003 0.8,-2.3000000000000003 0,-4.5" fill="#FFE61A" transform="rotate(22)"/>
<polygon points="-0.8,-2.3000000000000003 0.8,-2.3000000000000003 0,-4.5" fill="#FFE61A" transform="rotate(67)"/>
<polygon points="-0.8,-2.3000000000000003 0.8,-2.3000000000000003 0,-4.5" fill="#FFE61A" transform="rotate(112)"/>
<polygon points="-0.8,-2.3000000000000003 0.8,-2.3000000000000003 0,-4.5" fill="#FFE61A" transform="rotate(157)"/>
<polygon points="-0.8,-2.3000000000000003 0.8,-2.3000000000000003 0,-4.5" fill="#FFE61A" transform="rotate(202)"/>
<polygon points="-0.8,-2.3000000000000003 0.8,-2.3000000000000003 0,-4.5" fill="#FFE61A" transform="rotate(247)"/>
<polygon points="-0.8,-2.3000000000000003 0.8,-2.3000000000000003 0,-4.5" fill="#FFE61A" transform="rotate(292)"/>
<polygon points="-0.8,-2.3000000000000003 0.8,-2.3000000000000003 0,-4.5" fill="#FFE61A" transform="rotate(337)"/>
<circle r="2.6" fill="#FFE40A"/>
<circle cx="1.2" cy="3.5" r="0.7" fill="#4A5A6A" opacity="0.8"/>
</g>
<line x1="397.5" y1="337.8" x2="397.5" y2="344" stroke="#E0603A" stroke-width="2.0" stroke-linecap="round"/>
<circle cx="397.5" cy="344.2" r="1.9" fill="#E0603A"/>
<text x="401.0" y="340" font-size="3.5" font-family="'Liberation Sans', sans-serif" fill="#F2D080">°</text>
<polyline points="403.20,334.60 408.40,335.80 416.50,331.80 422.60,335.60 428.80,332.60" stroke="#333" stroke-width="0.6" fill="none" />
<line x1="403.50" y1="333.20" x2="408.60" y2="334.40" stroke="#333" stroke-width="0.45" />
<line x1="422.60" y1="335.60" x2="422.60" y2="341.00" stroke="#333" stroke-width="0.6" />
<text x="400.40" y="334.60" font-size="6.0" text-anchor="middle" font-weight="normal" font-family="'Liberation Sans', sans-serif" fill="#111" stroke="#111" stroke-width="0.1" >O</text>
<text x="434.00" y="334.00" font-size="5.8" text-anchor="middle" font-weight="normal" font-family="'Liberation Sans', sans-serif" fill="#111" stroke="#111" stroke-width="0.1" >CH₃</text>
<text x="425.30" y="346.80" font-size="5.8" text-anchor="middle" font-weight="normal" font-family="'Liberation Sans', sans-serif" fill="#111" stroke="#111" stroke-width="0.1" >CH₃</text>
<text x="417.80" y="355.90" font-size="5.41" text-anchor="middle" font-weight="bold" font-family="'Liberation Serif', serif" fill="#1a1a1a" stroke="#1a1a1a" stroke-width="0.2" >3-methyl-Butanal</text>
<polyline points="459.60,339.20 464.40,341.40 471.80,337.30 479.20,341.40 484.00,338.80" stroke="#333" stroke-width="0.6" fill="none" />
<line x1="459.80" y1="340.60" x2="464.20" y2="342.80" stroke="#333" stroke-width="0.45" />
<line x1="488.50" y1="339.20" x2="492.00" y2="341.20" stroke="#333" stroke-width="0.6" />
<text x="456.90" y="339.60" font-size="6.0" text-anchor="middle" font-weight="normal" font-family="'Liberation Sans', sans-serif" fill="#111" stroke="#111" stroke-width="0.1" >O</text>
<text x="486.20" y="339.60" font-size="6.0" text-anchor="middle" font-weight="normal" font-family="'Liberation Sans', sans-serif" fill="#111" stroke="#111" stroke-width="0.1" >S</text>
<text x="496.50" y="344.40" font-size="5.8" text-anchor="middle" font-weight="normal" font-family="'Liberation Sans', sans-serif" fill="#111" stroke="#111" stroke-width="0.1" >CH₃</text>
<line x1="478.20" y1="318.00" x2="478.20" y2="323.20" stroke="#333" stroke-width="0.5" />
<polygon points="477.30,322.90 479.10,322.90 478.20,324.70" fill="#222" stroke="none" stroke-width="0" />
<text x="478.60" y="356.20" font-size="5.24" text-anchor="middle" font-weight="bold" font-family="'Liberation Serif', serif" fill="#1a1a1a" stroke="#1a1a1a" stroke-width="0.2" >Methional</text>
<line x1="479.30" y1="361.50" x2="479.30" y2="390.90" stroke="#333" stroke-width="0.45" stroke-dasharray="0.8,0.8"/>
<polygon points="478.40,390.60 480.20,390.60 479.30,392.40" fill="#222" stroke="none" stroke-width="0" />
<text x="497.85" y="378.20" font-size="4.6" text-anchor="middle" font-weight="bold" font-family="'Liberation Serif', serif" fill="#1a1a1a" stroke="#1a1a1a" stroke-width="0.2" >Oxidation</text>
<text x="464.20" y="407.00" font-size="7.4" text-anchor="middle" font-weight="normal" font-family="'Liberation Sans', sans-serif" fill="#111" stroke="#111" stroke-width="0.1" >H₃C</text>
<text x="476.30" y="412.60" font-size="6.6" text-anchor="middle" font-weight="normal" font-family="'Liberation Sans', sans-serif" fill="#111" stroke="#111" stroke-width="0.1" >S</text>
<text x="488.90" y="407.00" font-size="7.4" text-anchor="middle" font-weight="normal" font-family="'Liberation Sans', sans-serif" fill="#111" stroke="#111" stroke-width="0.1" >CH₃</text>
<line x1="470.80" y1="405.60" x2="474.30" y2="408.60" stroke="#333" stroke-width="0.5" />
<line x1="478.50" y1="408.60" x2="482.20" y2="405.60" stroke="#333" stroke-width="0.5" />
<g transform="translate(500.8,409.6)">
<polygon points="-0.8,-2.3000000000000003 0.8,-2.3000000000000003 0,-4.5" fill="#FFE61A" transform="rotate(22)"/>
<polygon points="-0.8,-2.3000000000000003 0.8,-2.3000000000000003 0,-4.5" fill="#FFE61A" transform="rotate(67)"/>
<polygon points="-0.8,-2.3000000000000003 0.8,-2.3000000000000003 0,-4.5" fill="#FFE61A" transform="rotate(112)"/>
<polygon points="-0.8,-2.3000000000000003 0.8,-2.3000000000000003 0,-4.5" fill="#FFE61A" transform="rotate(157)"/>
<polygon points="-0.8,-2.3000000000000003 0.8,-2.3000000000000003 0,-4.5" fill="#FFE61A" transform="rotate(202)"/>
<polygon points="-0.8,-2.3000000000000003 0.8,-2.3000000000000003 0,-4.5" fill="#FFE61A" transform="rotate(247)"/>
<polygon points="-0.8,-2.3000000000000003 0.8,-2.3000000000000003 0,-4.5" fill="#FFE61A" transform="rotate(292)"/>
<polygon points="-0.8,-2.3000000000000003 0.8,-2.3000000000000003 0,-4.5" fill="#FFE61A" transform="rotate(337)"/>
<circle r="2.6" fill="#FFE40A"/>
<circle cx="1.2" cy="3.5" r="0.7" fill="#4A5A6A" opacity="0.8"/>
</g>
<text x="480.15" y="421.60" font-size="5.41" text-anchor="middle" font-weight="bold" font-family="'Liberation Serif', serif" fill="#1a1a1a" stroke="#1a1a1a" stroke-width="0.2" >Dimethyl Sulfide</text>
<line x1="325.00" y1="361.10" x2="325.00" y2="405.30" stroke="#444" stroke-width="0.6" />
<line x1="325.00" y1="405.30" x2="377.00" y2="405.30" stroke="#444" stroke-width="0.6" />
<line x1="323.80" y1="405.30" x2="325.00" y2="405.30" stroke="#555" stroke-width="0.4" />
<text x="323.40" y="406.40" font-size="3.0" text-anchor="end" font-weight="normal" font-family="'Liberation Serif', serif" fill="#555" stroke="#555" stroke-width="0.05" >0</text>
<line x1="323.80" y1="390.57" x2="325.00" y2="390.57" stroke="#555" stroke-width="0.4" />
<text x="323.40" y="391.67" font-size="3.0" text-anchor="end" font-weight="normal" font-family="'Liberation Serif', serif" fill="#555" stroke="#555" stroke-width="0.05" >0.005</text>
<line x1="323.80" y1="375.83" x2="325.00" y2="375.83" stroke="#555" stroke-width="0.4" />
<text x="323.40" y="376.93" font-size="3.0" text-anchor="end" font-weight="normal" font-family="'Liberation Serif', serif" fill="#555" stroke="#555" stroke-width="0.05" >0.007</text>
<line x1="323.80" y1="361.10" x2="325.00" y2="361.10" stroke="#555" stroke-width="0.4" />
<text x="323.40" y="362.20" font-size="3.0" text-anchor="end" font-weight="normal" font-family="'Liberation Serif', serif" fill="#555" stroke="#555" stroke-width="0.05" >0.100</text>
<rect x="327.00" y="389.10" width="9.10" height="16.20" fill="#80B47E" />
<line x1="331.55" y1="387.10" x2="331.55" y2="391.10" stroke="#444" stroke-width="0.4" />
<line x1="330.75" y1="387.10" x2="332.35" y2="387.10" stroke="#444" stroke-width="0.4" />
<text x="331.55" y="386.50" font-size="5.2" text-anchor="middle" font-weight="bold" font-family="'Liberation Serif', serif" fill="#222" stroke="#222" stroke-width="0.12" >c</text>
<text x="331.55" y="410.60" font-size="6.3" text-anchor="middle" font-weight="bold" font-family="'Liberation Serif', serif" fill="#1a1a1a" stroke="#1a1a1a" stroke-width="0.2" >CK</text>
<rect x="339.90" y="371.20" width="8.80" height="34.10" fill="#F5A346" />
<line x1="344.30" y1="365.20" x2="344.30" y2="377.20" stroke="#444" stroke-width="0.4" />
<line x1="343.50" y1="365.20" x2="345.10" y2="365.20" stroke="#444" stroke-width="0.4" />
<text x="344.30" y="364.60" font-size="5.2" text-anchor="middle" font-weight="bold" font-family="'Liberation Serif', serif" fill="#222" stroke="#222" stroke-width="0.12" >a</text>
<text x="344.30" y="410.60" font-size="6.3" text-anchor="middle" font-weight="bold" font-family="'Liberation Serif', serif" fill="#1a1a1a" stroke="#1a1a1a" stroke-width="0.2" >HT</text>
<rect x="352.70" y="379.10" width="8.80" height="26.20" fill="#FAF078" />
<line x1="357.10" y1="373.10" x2="357.10" y2="385.10" stroke="#444" stroke-width="0.4" />
<line x1="356.30" y1="373.10" x2="357.90" y2="373.10" stroke="#444" stroke-width="0.4" />
<text x="357.10" y="372.50" font-size="5.2" text-anchor="middle" font-weight="bold" font-family="'Liberation Serif', serif" fill="#222" stroke="#222" stroke-width="0.12" >b</text>
<text x="357.10" y="410.60" font-size="6.3" text-anchor="middle" font-weight="bold" font-family="'Liberation Serif', serif" fill="#1a1a1a" stroke="#1a1a1a" stroke-width="0.2" >YL</text>
<rect x="365.60" y="369.20" width="8.80" height="36.10" fill="#E97B7E" />
<line x1="370.00" y1="365.20" x2="370.00" y2="373.20" stroke="#444" stroke-width="0.4" />
<line x1="369.20" y1="365.20" x2="370.80" y2="365.20" stroke="#444" stroke-width="0.4" />
<text x="370.00" y="364.60" font-size="5.2" text-anchor="middle" font-weight="bold" font-family="'Liberation Serif', serif" fill="#222" stroke="#222" stroke-width="0.12" >a</text>
<text x="370.00" y="410.60" font-size="6.3" text-anchor="middle" font-weight="bold" font-family="'Liberation Serif', serif" fill="#1a1a1a" stroke="#1a1a1a" stroke-width="0.2" >HY</text>
<text transform="translate(311.9,383.4) rotate(-90)" font-size="4.6" text-anchor="middle" font-weight="bold" font-family="'Liberation Serif', serif" fill="#222" stroke="#222" stroke-width="0.2">Relative content (μg/g)</text>
<line x1="392.80" y1="361.30" x2="392.80" y2="405.30" stroke="#444" stroke-width="0.6" />
<line x1="392.80" y1="405.30" x2="443.50" y2="405.30" stroke="#444" stroke-width="0.6" />
<line x1="391.60" y1="405.30" x2="392.80" y2="405.30" stroke="#555" stroke-width="0.4" />
<text x="391.20" y="406.40" font-size="3.0" text-anchor="end" font-weight="normal" font-family="'Liberation Serif', serif" fill="#555" stroke="#555" stroke-width="0.05" >0</text>
<line x1="391.60" y1="394.30" x2="392.80" y2="394.30" stroke="#555" stroke-width="0.4" />
<text x="391.20" y="395.40" font-size="3.0" text-anchor="end" font-weight="normal" font-family="'Liberation Serif', serif" fill="#555" stroke="#555" stroke-width="0.05" >0.01</text>
<line x1="391.60" y1="383.30" x2="392.80" y2="383.30" stroke="#555" stroke-width="0.4" />
<text x="391.20" y="384.40" font-size="3.0" text-anchor="end" font-weight="normal" font-family="'Liberation Serif', serif" fill="#555" stroke="#555" stroke-width="0.05" >0.02</text>
<line x1="391.60" y1="372.30" x2="392.80" y2="372.30" stroke="#555" stroke-width="0.4" />
<text x="391.20" y="373.40" font-size="3.0" text-anchor="end" font-weight="normal" font-family="'Liberation Serif', serif" fill="#555" stroke="#555" stroke-width="0.05" >0.03</text>
<line x1="391.60" y1="361.30" x2="392.80" y2="361.30" stroke="#555" stroke-width="0.4" />
<text x="391.20" y="362.40" font-size="3.0" text-anchor="end" font-weight="normal" font-family="'Liberation Serif', serif" fill="#555" stroke="#555" stroke-width="0.05" >0.04</text>
<rect x="394.10" y="383.20" width="8.90" height="22.10" fill="#80B47E" />
<line x1="398.55" y1="381.20" x2="398.55" y2="385.20" stroke="#444" stroke-width="0.4" />
<line x1="397.75" y1="381.20" x2="399.35" y2="381.20" stroke="#444" stroke-width="0.4" />
<text x="398.55" y="380.60" font-size="5.2" text-anchor="middle" font-weight="bold" font-family="'Liberation Serif', serif" fill="#222" stroke="#222" stroke-width="0.12" >b</text>
<text x="398.55" y="410.60" font-size="6.3" text-anchor="middle" font-weight="bold" font-family="'Liberation Serif', serif" fill="#1a1a1a" stroke="#1a1a1a" stroke-width="0.2" >CK</text>
<rect x="407.00" y="368.30" width="8.80" height="37.00" fill="#F5A346" />
<line x1="411.40" y1="365.30" x2="411.40" y2="371.30" stroke="#444" stroke-width="0.4" />
<line x1="410.60" y1="365.30" x2="412.20" y2="365.30" stroke="#444" stroke-width="0.4" />
<text x="411.40" y="364.70" font-size="5.2" text-anchor="middle" font-weight="bold" font-family="'Liberation Serif', serif" fill="#222" stroke="#222" stroke-width="0.12" >a</text>
<text x="411.40" y="410.60" font-size="6.3" text-anchor="middle" font-weight="bold" font-family="'Liberation Serif', serif" fill="#1a1a1a" stroke="#1a1a1a" stroke-width="0.2" >HT</text>
<rect x="419.90" y="373.40" width="8.80" height="31.90" fill="#FAF078" />
<line x1="424.30" y1="368.40" x2="424.30" y2="378.40" stroke="#444" stroke-width="0.4" />
<line x1="423.50" y1="368.40" x2="425.10" y2="368.40" stroke="#444" stroke-width="0.4" />
<text x="424.30" y="367.80" font-size="5.2" text-anchor="middle" font-weight="bold" font-family="'Liberation Serif', serif" fill="#222" stroke="#222" stroke-width="0.12" >a</text>
<text x="424.30" y="410.60" font-size="6.3" text-anchor="middle" font-weight="bold" font-family="'Liberation Serif', serif" fill="#1a1a1a" stroke="#1a1a1a" stroke-width="0.2" >YL</text>
<rect x="432.70" y="372.10" width="8.40" height="33.20" fill="#E97B7E" />
<line x1="436.90" y1="366.10" x2="436.90" y2="378.10" stroke="#444" stroke-width="0.4" />
<line x1="436.10" y1="366.10" x2="437.70" y2="366.10" stroke="#444" stroke-width="0.4" />
<text x="436.90" y="365.50" font-size="5.2" text-anchor="middle" font-weight="bold" font-family="'Liberation Serif', serif" fill="#222" stroke="#222" stroke-width="0.12" >a</text>
<text x="436.90" y="410.60" font-size="6.3" text-anchor="middle" font-weight="bold" font-family="'Liberation Serif', serif" fill="#1a1a1a" stroke="#1a1a1a" stroke-width="0.2" >HY</text>
<line x1="459.50" y1="429.00" x2="459.50" y2="473.10" stroke="#444" stroke-width="0.6" />
<line x1="459.50" y1="473.10" x2="510.20" y2="473.10" stroke="#444" stroke-width="0.6" />
<line x1="458.30" y1="473.10" x2="459.50" y2="473.10" stroke="#555" stroke-width="0.4" />
<text x="457.90" y="474.20" font-size="3.0" text-anchor="end" font-weight="normal" font-family="'Liberation Serif', serif" fill="#555" stroke="#555" stroke-width="0.05" >0</text>
<line x1="458.30" y1="458.40" x2="459.50" y2="458.40" stroke="#555" stroke-width="0.4" />
<text x="457.90" y="459.50" font-size="3.0" text-anchor="end" font-weight="normal" font-family="'Liberation Serif', serif" fill="#555" stroke="#555" stroke-width="0.05" >0.05</text>
<line x1="458.30" y1="443.70" x2="459.50" y2="443.70" stroke="#555" stroke-width="0.4" />
<text x="457.90" y="444.80" font-size="3.0" text-anchor="end" font-weight="normal" font-family="'Liberation Serif', serif" fill="#555" stroke="#555" stroke-width="0.05" >0.1</text>
<line x1="458.30" y1="429.00" x2="459.50" y2="429.00" stroke="#555" stroke-width="0.4" />
<text x="457.90" y="430.10" font-size="3.0" text-anchor="end" font-weight="normal" font-family="'Liberation Serif', serif" fill="#555" stroke="#555" stroke-width="0.05" >0.15</text>
<rect x="460.70" y="460.10" width="9.40" height="13.00" fill="#80B47E" />
<line x1="465.40" y1="454.10" x2="465.40" y2="466.10" stroke="#444" stroke-width="0.4" />
<line x1="464.60" y1="454.10" x2="466.20" y2="454.10" stroke="#444" stroke-width="0.4" />
<text x="465.40" y="453.50" font-size="5.2" text-anchor="middle" font-weight="bold" font-family="'Liberation Serif', serif" fill="#222" stroke="#222" stroke-width="0.12" >c</text>
<text x="465.40" y="478.30" font-size="5.8" text-anchor="middle" font-weight="bold" font-family="'Liberation Serif', serif" fill="#1a1a1a" stroke="#1a1a1a" stroke-width="0.2" >CK</text>
<rect x="473.90" y="460.80" width="9.10" height="12.30" fill="#F5A346" />
<line x1="478.45" y1="456.80" x2="478.45" y2="464.80" stroke="#444" stroke-width="0.4" />
<line x1="477.65" y1="456.80" x2="479.25" y2="456.80" stroke="#444" stroke-width="0.4" />
<text x="478.45" y="456.20" font-size="5.2" text-anchor="middle" font-weight="bold" font-family="'Liberation Serif', serif" fill="#222" stroke="#222" stroke-width="0.12" >c</text>
<text x="478.45" y="478.30" font-size="5.8" text-anchor="middle" font-weight="bold" font-family="'Liberation Serif', serif" fill="#1a1a1a" stroke="#1a1a1a" stroke-width="0.2" >HT</text>
<rect x="487.30" y="449.50" width="8.70" height="23.60" fill="#FAF078" />
<line x1="491.65" y1="447.50" x2="491.65" y2="451.50" stroke="#444" stroke-width="0.4" />
<line x1="490.85" y1="447.50" x2="492.45" y2="447.50" stroke="#444" stroke-width="0.4" />
<text x="491.65" y="446.90" font-size="5.2" text-anchor="middle" font-weight="bold" font-family="'Liberation Serif', serif" fill="#222" stroke="#222" stroke-width="0.12" >b</text>
<text x="491.65" y="478.30" font-size="5.8" text-anchor="middle" font-weight="bold" font-family="'Liberation Serif', serif" fill="#1a1a1a" stroke="#1a1a1a" stroke-width="0.2" >YL</text>
<rect x="500.00" y="437.70" width="8.30" height="35.40" fill="#E97B7E" />
<line x1="504.15" y1="432.70" x2="504.15" y2="442.70" stroke="#444" stroke-width="0.4" />
<line x1="503.35" y1="432.70" x2="504.95" y2="432.70" stroke="#444" stroke-width="0.4" />
<text x="504.15" y="432.10" font-size="5.2" text-anchor="middle" font-weight="bold" font-family="'Liberation Serif', serif" fill="#222" stroke="#222" stroke-width="0.12" >a</text>
<text x="504.15" y="478.30" font-size="5.8" text-anchor="middle" font-weight="bold" font-family="'Liberation Serif', serif" fill="#1a1a1a" stroke="#1a1a1a" stroke-width="0.2" >HY</text>
<text transform="translate(447.5,449.0) rotate(-90)" font-size="4.38" text-anchor="middle" font-weight="bold" font-family="'Liberation Serif', serif" fill="#222" stroke="#222" stroke-width="0.2">Relative content (μg/g)</text>
<rect x="537.00" y="267.70" width="120.00" height="155.60" fill="none" stroke="#9AA3B2" stroke-width="0.9"/>
<text x="542.80" y="279.90" font-size="10.6" text-anchor="middle" font-weight="bold" font-family="'Liberation Serif', serif" fill="#111" stroke="#111" stroke-width="0.18" >C</text>
<polyline points="555.00,282.60 558.60,280.20 563.70,282.90 568.80,280.00 573.90,282.90 579.00,280.00 584.10,282.90 589.20,280.00 594.30,282.90 599.40,280.00 604.50,282.90 609.60,280.00 614.70,282.90 619.80,280.00 624.90,282.90 630.00,280.00 635.10,282.90 640.20,280.00" stroke="#333" stroke-width="0.55" fill="none" />
<line x1="559.10" y1="280.20" x2="559.10" y2="275.40" stroke="#333" stroke-width="0.5" />
<line x1="558.10" y1="280.20" x2="558.10" y2="275.40" stroke="#333" stroke-width="0.4" />
<line x1="600.40" y1="281.30" x2="603.50" y2="282.90" stroke="#333" stroke-width="0.4" />
<line x1="615.70" y1="284.20" x2="618.80" y2="281.30" stroke="#333" stroke-width="0.4" />
<text x="551.60" y="284.40" font-size="4.0" text-anchor="middle" font-weight="normal" font-family="'Liberation Sans', sans-serif" fill="#111" stroke="#111" stroke-width="0.1" >HO</text>
<text x="558.60" y="274.80" font-size="4.0" text-anchor="middle" font-weight="normal" font-family="'Liberation Sans', sans-serif" fill="#111" stroke="#111" stroke-width="0.1" >O</text>
<text x="648.90" y="284.00" font-size="4.0" text-anchor="middle" font-weight="normal" font-family="'Liberation Sans', sans-serif" fill="#111" stroke="#111" stroke-width="0.1" >CH₃</text>
<text x="597.00" y="289.50" font-size="5.3" text-anchor="middle" font-weight="bold" font-family="'Liberation Serif', serif" fill="#1a1a1a" stroke="#1a1a1a" stroke-width="0.2" >Linoleic acid</text>
<line x1="596.70" y1="292.00" x2="596.70" y2="311.50" stroke="#333" stroke-width="0.6" />
<polygon points="595.80,311.20 597.60,311.20 596.70,313.00" fill="#222" stroke="none" stroke-width="0" />
<line x1="596.70" y1="313.50" x2="596.70" y2="339.30" stroke="#333" stroke-width="0.5" stroke-dasharray="0.8,0.8"/>
<polygon points="595.80,339.00 597.60,339.00 596.70,340.80" fill="#222" stroke="none" stroke-width="0" />
<text x="605.15" y="302.00" font-size="4.5" text-anchor="middle" font-weight="normal" font-family="'Liberation Serif', serif" fill="#1a1a1a" stroke="#1a1a1a" stroke-width="0.18" >LOX</text>
<text x="604.90" y="329.70" font-size="4.5" text-anchor="middle" font-weight="normal" font-family="'Liberation Serif', serif" fill="#1a1a1a" stroke="#1a1a1a" stroke-width="0.18" >HPL</text>
<g transform="translate(574,333.2)">
<polygon points="-0.8,-2.3000000000000003 0.8,-2.3000000000000003 0,-4.5" fill="#FFE61A" transform="rotate(22)"/>
<polygon points="-0.8,-2.3000000000000003 0.8,-2.3000000000000003 0,-4.5" fill="#FFE61A" transform="rotate(67)"/>
<polygon points="-0.8,-2.3000000000000003 0.8,-2.3000000000000003 0,-4.5" fill="#FFE61A" transform="rotate(112)"/>
<polygon points="-0.8,-2.3000000000000003 0.8,-2.3000000000000003 0,-4.5" fill="#FFE61A" transform="rotate(157)"/>
<polygon points="-0.8,-2.3000000000000003 0.8,-2.3000000000000003 0,-4.5" fill="#FFE61A" transform="rotate(202)"/>
<polygon points="-0.8,-2.3000000000000003 0.8,-2.3000000000000003 0,-4.5" fill="#FFE61A" transform="rotate(247)"/>
<polygon points="-0.8,-2.3000000000000003 0.8,-2.3000000000000003 0,-4.5" fill="#FFE61A" transform="rotate(292)"/>
<polygon points="-0.8,-2.3000000000000003 0.8,-2.3000000000000003 0,-4.5" fill="#FFE61A" transform="rotate(337)"/>
<circle r="2.6" fill="#FFE40A"/>
<circle cx="1.2" cy="3.5" r="0.7" fill="#4A5A6A" opacity="0.8"/>
</g>
<line x1="584.6" y1="330.0" x2="584.6" y2="336.3" stroke="#E0603A" stroke-width="2.0" stroke-linecap="round"/>
<circle cx="584.6" cy="336.5" r="1.9" fill="#E0603A"/>
<text x="588.1" y="332.2" font-size="3.5" font-family="'Liberation Sans', sans-serif" fill="#F2D080">°</text>
<text x="596.80" y="347.60" font-size="5.4" text-anchor="middle" font-weight="bold" font-family="'Liberation Serif', serif" fill="#1a1a1a" stroke="#1a1a1a" stroke-width="0.2" >Nonanal</text>
<polyline points="570.00,359.50 574.50,357.00 579.10,360.80 583.70,357.00 588.30,360.80 592.90,357.00 597.50,360.80 602.10,357.00 606.70,360.80 611.30,357.00 615.90,360.80" stroke="#333" stroke-width="0.55" fill="none" />
<line x1="575.00" y1="357.00" x2="575.00" y2="353.80" stroke="#333" stroke-width="0.5" />
<line x1="574.00" y1="357.00" x2="574.00" y2="353.80" stroke="#333" stroke-width="0.4" />
<text x="568.50" y="362.30" font-size="4.0" text-anchor="middle" font-weight="normal" font-family="'Liberation Sans', sans-serif" fill="#3050A0" stroke="#3050A0" stroke-width="0.1" >H</text>
<text x="574.30" y="353.60" font-size="4.0" text-anchor="middle" font-weight="normal" font-family="'Liberation Sans', sans-serif" fill="#111" stroke="#111" stroke-width="0.1" >O</text>
<text x="619.90" y="360.00" font-size="4.6" text-anchor="middle" font-weight="normal" font-family="'Liberation Sans', sans-serif" fill="#111" stroke="#111" stroke-width="0.1" >CH₃</text>
<line x1="571.20" y1="371.30" x2="571.20" y2="415.50" stroke="#444" stroke-width="0.6" />
<line x1="571.20" y1="415.50" x2="625.60" y2="415.50" stroke="#444" stroke-width="0.6" />
<line x1="570.00" y1="415.50" x2="571.20" y2="415.50" stroke="#555" stroke-width="0.4" />
<text x="569.60" y="416.60" font-size="3.0" text-anchor="end" font-weight="normal" font-family="'Liberation Serif', serif" fill="#555" stroke="#555" stroke-width="0.05" >0</text>
<line x1="570.00" y1="406.66" x2="571.20" y2="406.66" stroke="#555" stroke-width="0.4" />
<text x="569.60" y="407.76" font-size="3.0" text-anchor="end" font-weight="normal" font-family="'Liberation Serif', serif" fill="#555" stroke="#555" stroke-width="0.05" >0.005</text>
<line x1="570.00" y1="397.82" x2="571.20" y2="397.82" stroke="#555" stroke-width="0.4" />
<text x="569.60" y="398.92" font-size="3.0" text-anchor="end" font-weight="normal" font-family="'Liberation Serif', serif" fill="#555" stroke="#555" stroke-width="0.05" >0.01</text>
<line x1="570.00" y1="388.98" x2="571.20" y2="388.98" stroke="#555" stroke-width="0.4" />
<text x="569.60" y="390.08" font-size="3.0" text-anchor="end" font-weight="normal" font-family="'Liberation Serif', serif" fill="#555" stroke="#555" stroke-width="0.05" >0.015</text>
<line x1="570.00" y1="380.14" x2="571.20" y2="380.14" stroke="#555" stroke-width="0.4" />
<text x="569.60" y="381.24" font-size="3.0" text-anchor="end" font-weight="normal" font-family="'Liberation Serif', serif" fill="#555" stroke="#555" stroke-width="0.05" >0.02</text>
<line x1="570.00" y1="371.30" x2="571.20" y2="371.30" stroke="#555" stroke-width="0.4" />
<text x="569.60" y="372.40" font-size="3.0" text-anchor="end" font-weight="normal" font-family="'Liberation Serif', serif" fill="#555" stroke="#555" stroke-width="0.05" >0.025</text>
<rect x="573.00" y="415.50" width="9.00" height="0.00" fill="none" />
<text x="577.50" y="420.60" font-size="5.3" text-anchor="middle" font-weight="bold" font-family="'Liberation Serif', serif" fill="#1a1a1a" stroke="#1a1a1a" stroke-width="0.2" >CK</text>
<rect x="588.90" y="387.10" width="9.20" height="28.40" fill="#F5A346" />
<line x1="593.50" y1="374.60" x2="593.50" y2="399.60" stroke="#444" stroke-width="0.4" />
<line x1="592.70" y1="374.60" x2="594.30" y2="374.60" stroke="#444" stroke-width="0.4" />
<text x="593.50" y="377.20" font-size="5.2" text-anchor="middle" font-weight="bold" font-family="'Liberation Serif', serif" fill="#222" stroke="#222" stroke-width="0.12" >a</text>
<text x="593.50" y="420.60" font-size="5.3" text-anchor="middle" font-weight="bold" font-family="'Liberation Serif', serif" fill="#1a1a1a" stroke="#1a1a1a" stroke-width="0.2" >HT</text>
<rect x="601.90" y="383.40" width="9.20" height="32.10" fill="#FAF078" />
<line x1="606.50" y1="371.40" x2="606.50" y2="395.40" stroke="#444" stroke-width="0.4" />
<line x1="605.70" y1="371.40" x2="607.30" y2="371.40" stroke="#444" stroke-width="0.4" />
<text x="606.50" y="374.00" font-size="5.2" text-anchor="middle" font-weight="bold" font-family="'Liberation Serif', serif" fill="#222" stroke="#222" stroke-width="0.12" >a</text>
<text x="606.50" y="420.60" font-size="5.3" text-anchor="middle" font-weight="bold" font-family="'Liberation Serif', serif" fill="#1a1a1a" stroke="#1a1a1a" stroke-width="0.2" >YL</text>
<rect x="614.50" y="388.90" width="9.30" height="26.60" fill="#E97B7E" />
<line x1="619.15" y1="379.40" x2="619.15" y2="398.40" stroke="#444" stroke-width="0.4" />
<line x1="618.35" y1="379.40" x2="619.95" y2="379.40" stroke="#444" stroke-width="0.4" />
<text x="619.15" y="382.00" font-size="5.2" text-anchor="middle" font-weight="bold" font-family="'Liberation Serif', serif" fill="#222" stroke="#222" stroke-width="0.12" >a</text>
<text x="619.15" y="420.60" font-size="5.3" text-anchor="middle" font-weight="bold" font-family="'Liberation Serif', serif" fill="#1a1a1a" stroke="#1a1a1a" stroke-width="0.2" >HY</text>
<text x="580.70" y="412.80" font-size="5.0" text-anchor="middle" font-weight="bold" font-family="'Liberation Serif', serif" fill="#1a1a1a" stroke="#1a1a1a" stroke-width="0.2" >N.D.</text>
<text transform="translate(561.6,392.2) rotate(-90)" font-size="4.7" text-anchor="middle" font-weight="bold" font-family="'Liberation Serif', serif" fill="#222" stroke="#222" stroke-width="0.2">Relative content (μg/g)</text>
</svg></body></html>
